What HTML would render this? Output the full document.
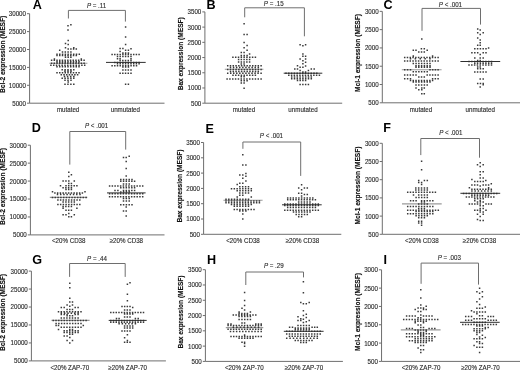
<!DOCTYPE html>
<html><head><meta charset="utf-8"><style>
html,body{margin:0;padding:0;background:#fff;}
svg{display:block;will-change:transform;filter:blur(0.4px);}
text{font-family:"Liberation Sans", sans-serif;}
.t{font-size:6.2px;fill:#2a2a2a;stroke:#2a2a2a;stroke-width:0.12px;}
.ti{font-size:6.9px;font-weight:bold;fill:#111;stroke:#111;stroke-width:0.15px;}
.L{font-size:12.6px;font-weight:bold;fill:#000;}
</style></head><body>
<svg width="520" height="371" viewBox="0 0 520 371">
<rect width="520" height="371" fill="#fff"/>
<path d="M29.6 13.7V103.2H164.5" stroke="#6e6e6e" stroke-width="1" fill="none"/>
<path d="M27 13.7H29.6M27 31.6H29.6M27 49.5H29.6M27 67.4H29.6M27 85.3H29.6M27 103.2H29.6" stroke="#6e6e6e" stroke-width="1" fill="none"/>
<text transform="translate(26 16.15) scale(1 1.13)" text-anchor="end" class="t">30000</text>
<text transform="translate(26 34.05) scale(1 1.13)" text-anchor="end" class="t">25000</text>
<text transform="translate(26 51.95) scale(1 1.13)" text-anchor="end" class="t">20000</text>
<text transform="translate(26 69.85) scale(1 1.13)" text-anchor="end" class="t">15000</text>
<text transform="translate(26 87.75) scale(1 1.13)" text-anchor="end" class="t">10000</text>
<text transform="translate(26 105.65) scale(1 1.13)" text-anchor="end" class="t">5000</text>
<text transform="translate(5.4 54.45) rotate(-90) scale(0.955 1)" text-anchor="middle" class="ti">Bcl-2 expression (MESF)</text>
<text x="32.7" y="8.7" class="L">A</text>
<path d="M68.4 18.5V10.4H125.4V21.6" stroke="#6e6e6e" stroke-width="1" fill="none"/>
<text transform="translate(86.9 7.7) scale(1 1.03)" class="t"><tspan font-style="italic">P</tspan> = .11</text>
<text transform="translate(68.1 112.25) scale(1 1.13)" text-anchor="middle" class="t">mutated</text>
<text transform="translate(125.35 112.25) scale(1 1.13)" text-anchor="middle" class="t">unmutated</text>
<path d="M49.4 63.3H87.4" stroke="#9a9a9a" stroke-width="1.1"/>
<path d="M70.15 24.05h1.5v1.5h-1.5zM67.25 25.05h1.5v1.5h-1.5zM67.25 29.25h1.5v1.5h-1.5zM67.45 39.85h1.5v1.5h-1.5zM64.75 42.75h1.5v1.5h-1.5zM67.45 43.85h1.5v1.5h-1.5zM64.75 47.05h1.5v1.5h-1.5zM73.05 47.05h1.5v1.5h-1.5zM67.45 48.25h1.5v1.5h-1.5zM70.15 48.25h1.5v1.5h-1.5zM72.85 48.25h1.5v1.5h-1.5zM75.55 48.25h1.5v1.5h-1.5zM58.95 49.45h1.5v1.5h-1.5zM61.75 51.15h1.5v1.5h-1.5zM64.55 51.15h1.5v1.5h-1.5zM67.35 51.15h1.5v1.5h-1.5zM70.15 51.15h1.5v1.5h-1.5zM56.25 53.45h1.5v1.5h-1.5zM59.04 53.45h1.5v1.5h-1.5zM61.83 53.45h1.5v1.5h-1.5zM64.61 53.45h1.5v1.5h-1.5zM67.4 53.45h1.5v1.5h-1.5zM70.19 53.45h1.5v1.5h-1.5zM72.97 53.45h1.5v1.5h-1.5zM75.76 53.45h1.5v1.5h-1.5zM78.55 53.45h1.5v1.5h-1.5zM56.25 54.85h1.5v1.5h-1.5zM59.01 54.85h1.5v1.5h-1.5zM61.76 54.85h1.5v1.5h-1.5zM64.52 54.85h1.5v1.5h-1.5zM67.28 54.85h1.5v1.5h-1.5zM70.04 54.85h1.5v1.5h-1.5zM72.79 54.85h1.5v1.5h-1.5zM75.55 54.85h1.5v1.5h-1.5zM64.75 56.55h1.5v1.5h-1.5zM67.45 56.55h1.5v1.5h-1.5zM70.15 56.55h1.5v1.5h-1.5zM53.65 58.25h1.5v1.5h-1.5zM80.55 58.25h1.5v1.5h-1.5zM50.85 59.45h1.5v1.5h-1.5zM53.56 59.45h1.5v1.5h-1.5zM56.27 59.45h1.5v1.5h-1.5zM58.98 59.45h1.5v1.5h-1.5zM61.68 59.45h1.5v1.5h-1.5zM64.39 59.45h1.5v1.5h-1.5zM67.1 59.45h1.5v1.5h-1.5zM69.81 59.45h1.5v1.5h-1.5zM72.52 59.45h1.5v1.5h-1.5zM75.22 59.45h1.5v1.5h-1.5zM77.93 59.45h1.5v1.5h-1.5zM80.64 59.45h1.5v1.5h-1.5zM83.35 59.45h1.5v1.5h-1.5zM56.25 60.95h1.5v1.5h-1.5zM59 60.95h1.5v1.5h-1.5zM61.75 60.95h1.5v1.5h-1.5zM64.5 60.95h1.5v1.5h-1.5zM67.25 60.95h1.5v1.5h-1.5zM70 60.95h1.5v1.5h-1.5zM72.75 60.95h1.5v1.5h-1.5zM75.5 60.95h1.5v1.5h-1.5zM78.25 60.95h1.5v1.5h-1.5zM50.85 62.55h1.5v1.5h-1.5zM53.56 62.55h1.5v1.5h-1.5zM56.27 62.55h1.5v1.5h-1.5zM58.98 62.55h1.5v1.5h-1.5zM61.68 62.55h1.5v1.5h-1.5zM64.39 62.55h1.5v1.5h-1.5zM67.1 62.55h1.5v1.5h-1.5zM69.81 62.55h1.5v1.5h-1.5zM72.52 62.55h1.5v1.5h-1.5zM75.22 62.55h1.5v1.5h-1.5zM77.93 62.55h1.5v1.5h-1.5zM80.64 62.55h1.5v1.5h-1.5zM83.35 62.55h1.5v1.5h-1.5zM50.15 64.45h1.5v1.5h-1.5zM52.97 64.45h1.5v1.5h-1.5zM55.78 64.45h1.5v1.5h-1.5zM58.6 64.45h1.5v1.5h-1.5zM61.42 64.45h1.5v1.5h-1.5zM64.23 64.45h1.5v1.5h-1.5zM67.05 64.45h1.5v1.5h-1.5zM69.87 64.45h1.5v1.5h-1.5zM72.68 64.45h1.5v1.5h-1.5zM75.5 64.45h1.5v1.5h-1.5zM78.32 64.45h1.5v1.5h-1.5zM81.13 64.45h1.5v1.5h-1.5zM83.95 64.45h1.5v1.5h-1.5zM56.25 66.05h1.5v1.5h-1.5zM59 66.05h1.5v1.5h-1.5zM61.75 66.05h1.5v1.5h-1.5zM64.5 66.05h1.5v1.5h-1.5zM67.25 66.05h1.5v1.5h-1.5zM70 66.05h1.5v1.5h-1.5zM72.75 66.05h1.5v1.5h-1.5zM75.5 66.05h1.5v1.5h-1.5zM78.25 66.05h1.5v1.5h-1.5zM61.45 69.05h1.5v1.5h-1.5zM64.35 69.05h1.5v1.5h-1.5zM67.25 69.05h1.5v1.5h-1.5zM70.15 69.05h1.5v1.5h-1.5zM73.05 69.05h1.5v1.5h-1.5zM64.25 70.45h1.5v1.5h-1.5zM67.25 70.45h1.5v1.5h-1.5zM70.25 70.45h1.5v1.5h-1.5zM56.25 71.95h1.5v1.5h-1.5zM59 71.95h1.5v1.5h-1.5zM61.75 71.95h1.5v1.5h-1.5zM64.5 71.95h1.5v1.5h-1.5zM67.25 71.95h1.5v1.5h-1.5zM70 71.95h1.5v1.5h-1.5zM72.75 71.95h1.5v1.5h-1.5zM75.5 71.95h1.5v1.5h-1.5zM78.25 71.95h1.5v1.5h-1.5zM60.55 73.95h1.5v1.5h-1.5zM63.27 73.95h1.5v1.5h-1.5zM65.98 73.95h1.5v1.5h-1.5zM68.7 73.95h1.5v1.5h-1.5zM71.42 73.95h1.5v1.5h-1.5zM74.13 73.95h1.5v1.5h-1.5zM76.85 73.95h1.5v1.5h-1.5zM63.75 75.65h1.5v1.5h-1.5zM66.85 75.65h1.5v1.5h-1.5zM69.95 75.65h1.5v1.5h-1.5zM73.05 75.65h1.5v1.5h-1.5zM61.45 77.55h1.5v1.5h-1.5zM64.35 77.55h1.5v1.5h-1.5zM67.25 77.55h1.5v1.5h-1.5zM70.15 77.55h1.5v1.5h-1.5zM73.05 77.55h1.5v1.5h-1.5zM64.25 79.45h1.5v1.5h-1.5zM67.25 79.45h1.5v1.5h-1.5zM70.25 79.45h1.5v1.5h-1.5zM67.45 81.25h1.5v1.5h-1.5zM64.25 83.45h1.5v1.5h-1.5zM67.18 83.45h1.5v1.5h-1.5zM70.12 83.45h1.5v1.5h-1.5zM73.05 83.45h1.5v1.5h-1.5z" fill="#3a3a3a"/>
<path d="M124.85 26.15h1.5v1.5h-1.5zM124.85 36.35h1.5v1.5h-1.5zM124.85 43.85h1.5v1.5h-1.5zM119.35 47.85h1.5v1.5h-1.5zM122.15 47.85h1.5v1.5h-1.5zM130.25 48.05h1.5v1.5h-1.5zM124.85 49.45h1.5v1.5h-1.5zM127.65 49.45h1.5v1.5h-1.5zM119.35 50.65h1.5v1.5h-1.5zM122.15 52.15h1.5v1.5h-1.5zM124.9 52.15h1.5v1.5h-1.5zM127.65 52.15h1.5v1.5h-1.5zM111.35 53.85h1.5v1.5h-1.5zM114.05 53.85h1.5v1.5h-1.5zM116.75 53.85h1.5v1.5h-1.5zM119.45 53.85h1.5v1.5h-1.5zM122.15 53.85h1.5v1.5h-1.5zM124.85 53.85h1.5v1.5h-1.5zM127.55 53.85h1.5v1.5h-1.5zM130.25 53.85h1.5v1.5h-1.5zM132.95 53.85h1.5v1.5h-1.5zM135.65 53.85h1.5v1.5h-1.5zM138.35 53.85h1.5v1.5h-1.5zM116.75 55.85h1.5v1.5h-1.5zM119.45 55.85h1.5v1.5h-1.5zM122.15 55.85h1.5v1.5h-1.5zM124.85 55.85h1.5v1.5h-1.5zM127.55 55.85h1.5v1.5h-1.5zM130.25 55.85h1.5v1.5h-1.5zM116.75 57.95h1.5v1.5h-1.5zM119.35 57.95h1.5v1.5h-1.5zM130.25 57.95h1.5v1.5h-1.5zM119.35 59.85h1.5v1.5h-1.5zM122.07 59.85h1.5v1.5h-1.5zM124.8 59.85h1.5v1.5h-1.5zM127.53 59.85h1.5v1.5h-1.5zM130.25 59.85h1.5v1.5h-1.5zM114.05 61.65h1.5v1.5h-1.5zM116.75 61.65h1.5v1.5h-1.5zM119.45 61.65h1.5v1.5h-1.5zM122.15 61.65h1.5v1.5h-1.5zM124.85 61.65h1.5v1.5h-1.5zM127.55 61.65h1.5v1.5h-1.5zM130.25 61.65h1.5v1.5h-1.5zM132.95 61.65h1.5v1.5h-1.5zM135.65 61.65h1.5v1.5h-1.5zM138.35 61.65h1.5v1.5h-1.5zM116.75 63.05h1.5v1.5h-1.5zM119.45 63.05h1.5v1.5h-1.5zM122.15 63.05h1.5v1.5h-1.5zM124.85 63.05h1.5v1.5h-1.5zM127.55 63.05h1.5v1.5h-1.5zM130.25 63.05h1.5v1.5h-1.5zM132.95 63.05h1.5v1.5h-1.5zM135.65 63.05h1.5v1.5h-1.5zM138.35 63.05h1.5v1.5h-1.5zM111.35 65.05h1.5v1.5h-1.5zM114.06 65.05h1.5v1.5h-1.5zM116.77 65.05h1.5v1.5h-1.5zM119.48 65.05h1.5v1.5h-1.5zM122.19 65.05h1.5v1.5h-1.5zM124.91 65.05h1.5v1.5h-1.5zM127.62 65.05h1.5v1.5h-1.5zM130.33 65.05h1.5v1.5h-1.5zM133.04 65.05h1.5v1.5h-1.5zM135.75 65.05h1.5v1.5h-1.5zM122.15 66.25h1.5v1.5h-1.5zM124.9 66.25h1.5v1.5h-1.5zM127.65 66.25h1.5v1.5h-1.5zM122.15 69.15h1.5v1.5h-1.5zM124.85 69.15h1.5v1.5h-1.5zM127.55 69.15h1.5v1.5h-1.5zM130.25 69.15h1.5v1.5h-1.5zM119.35 72.55h1.5v1.5h-1.5zM122.07 72.55h1.5v1.5h-1.5zM124.8 72.55h1.5v1.5h-1.5zM127.53 72.55h1.5v1.5h-1.5zM130.25 72.55h1.5v1.5h-1.5zM124.85 83.55h1.5v1.5h-1.5zM127.65 83.55h1.5v1.5h-1.5z" fill="#3a3a3a"/>
<path d="M106 62.4H145.7" stroke="#2e2e2e" stroke-width="1.0"/>
<path d="M204.9 11.9V103.2H342.2" stroke="#6e6e6e" stroke-width="1" fill="none"/>
<path d="M202.3 11.9H204.9M202.3 27.12H204.9M202.3 42.33H204.9M202.3 57.55H204.9M202.3 72.77H204.9M202.3 87.98H204.9M202.3 103.2H204.9" stroke="#6e6e6e" stroke-width="1" fill="none"/>
<text transform="translate(201.3 14.35) scale(1 1.13)" text-anchor="end" class="t">3500</text>
<text transform="translate(201.3 29.57) scale(1 1.13)" text-anchor="end" class="t">3000</text>
<text transform="translate(201.3 44.78) scale(1 1.13)" text-anchor="end" class="t">2500</text>
<text transform="translate(201.3 60) scale(1 1.13)" text-anchor="end" class="t">2000</text>
<text transform="translate(201.3 75.22) scale(1 1.13)" text-anchor="end" class="t">1500</text>
<text transform="translate(201.3 90.43) scale(1 1.13)" text-anchor="end" class="t">1000</text>
<text transform="translate(201.3 105.65) scale(1 1.13)" text-anchor="end" class="t">500</text>
<text transform="translate(182.6 53.8) rotate(-90) scale(0.955 1)" text-anchor="middle" class="ti">Bax expression (MESF)</text>
<text x="206.4" y="8.7" class="L">B</text>
<path d="M244.7 17.3V7.8H304.4V36.3" stroke="#6e6e6e" stroke-width="1" fill="none"/>
<text transform="translate(263.8 6.2) scale(1 1.03)" class="t"><tspan font-style="italic">P</tspan> = .15</text>
<text transform="translate(244 111.85) scale(1 1.13)" text-anchor="middle" class="t">mutated</text>
<text transform="translate(303 111.85) scale(1 1.13)" text-anchor="middle" class="t">unmutated</text>
<path d="M224.8 69.3H263.4" stroke="#9a9a9a" stroke-width="1.1"/>
<path d="M243.35 23.05h1.5v1.5h-1.5zM243.35 33.65h1.5v1.5h-1.5zM246.35 33.65h1.5v1.5h-1.5zM243.35 41.85h1.5v1.5h-1.5zM246.35 44.75h1.5v1.5h-1.5zM243.35 47.05h1.5v1.5h-1.5zM246.35 49.55h1.5v1.5h-1.5zM240.55 51.65h1.5v1.5h-1.5zM243.35 51.65h1.5v1.5h-1.5zM248.85 53.25h1.5v1.5h-1.5zM240.55 54.75h1.5v1.5h-1.5zM243.45 54.75h1.5v1.5h-1.5zM246.35 54.75h1.5v1.5h-1.5zM232.15 56.45h1.5v1.5h-1.5zM234.96 56.45h1.5v1.5h-1.5zM237.78 56.45h1.5v1.5h-1.5zM240.59 56.45h1.5v1.5h-1.5zM243.4 56.45h1.5v1.5h-1.5zM246.21 56.45h1.5v1.5h-1.5zM249.03 56.45h1.5v1.5h-1.5zM251.84 56.45h1.5v1.5h-1.5zM254.65 56.45h1.5v1.5h-1.5zM237.85 58.75h1.5v1.5h-1.5zM240.6 58.75h1.5v1.5h-1.5zM243.35 58.75h1.5v1.5h-1.5zM246.1 58.75h1.5v1.5h-1.5zM248.85 58.75h1.5v1.5h-1.5zM237.85 61.35h1.5v1.5h-1.5zM240.6 61.35h1.5v1.5h-1.5zM243.35 61.35h1.5v1.5h-1.5zM246.1 61.35h1.5v1.5h-1.5zM248.85 61.35h1.5v1.5h-1.5zM240.55 63.35h1.5v1.5h-1.5zM243.35 63.35h1.5v1.5h-1.5zM226.95 65.05h1.5v1.5h-1.5zM229.73 65.05h1.5v1.5h-1.5zM232.52 65.05h1.5v1.5h-1.5zM235.3 65.05h1.5v1.5h-1.5zM238.08 65.05h1.5v1.5h-1.5zM240.87 65.05h1.5v1.5h-1.5zM243.65 65.05h1.5v1.5h-1.5zM246.43 65.05h1.5v1.5h-1.5zM249.22 65.05h1.5v1.5h-1.5zM252 65.05h1.5v1.5h-1.5zM254.78 65.05h1.5v1.5h-1.5zM257.57 65.05h1.5v1.5h-1.5zM260.35 65.05h1.5v1.5h-1.5zM229.75 66.85h1.5v1.5h-1.5zM232.84 66.85h1.5v1.5h-1.5zM235.93 66.85h1.5v1.5h-1.5zM239.02 66.85h1.5v1.5h-1.5zM242.11 66.85h1.5v1.5h-1.5zM245.19 66.85h1.5v1.5h-1.5zM248.28 66.85h1.5v1.5h-1.5zM251.37 66.85h1.5v1.5h-1.5zM254.46 66.85h1.5v1.5h-1.5zM257.55 66.85h1.5v1.5h-1.5zM226.95 68.75h1.5v1.5h-1.5zM229.73 68.75h1.5v1.5h-1.5zM232.52 68.75h1.5v1.5h-1.5zM235.3 68.75h1.5v1.5h-1.5zM238.08 68.75h1.5v1.5h-1.5zM240.87 68.75h1.5v1.5h-1.5zM243.65 68.75h1.5v1.5h-1.5zM246.43 68.75h1.5v1.5h-1.5zM249.22 68.75h1.5v1.5h-1.5zM252 68.75h1.5v1.5h-1.5zM254.78 68.75h1.5v1.5h-1.5zM257.57 68.75h1.5v1.5h-1.5zM260.35 68.75h1.5v1.5h-1.5zM229.75 70.65h1.5v1.5h-1.5zM232.53 70.65h1.5v1.5h-1.5zM235.31 70.65h1.5v1.5h-1.5zM238.09 70.65h1.5v1.5h-1.5zM240.87 70.65h1.5v1.5h-1.5zM243.65 70.65h1.5v1.5h-1.5zM246.43 70.65h1.5v1.5h-1.5zM249.21 70.65h1.5v1.5h-1.5zM251.99 70.65h1.5v1.5h-1.5zM254.77 70.65h1.5v1.5h-1.5zM257.55 70.65h1.5v1.5h-1.5zM226.95 72.55h1.5v1.5h-1.5zM229.99 72.55h1.5v1.5h-1.5zM233.02 72.55h1.5v1.5h-1.5zM236.06 72.55h1.5v1.5h-1.5zM239.1 72.55h1.5v1.5h-1.5zM242.13 72.55h1.5v1.5h-1.5zM245.17 72.55h1.5v1.5h-1.5zM248.2 72.55h1.5v1.5h-1.5zM251.24 72.55h1.5v1.5h-1.5zM254.28 72.55h1.5v1.5h-1.5zM257.31 72.55h1.5v1.5h-1.5zM260.35 72.55h1.5v1.5h-1.5zM232.25 74.55h1.5v1.5h-1.5zM235.05 74.55h1.5v1.5h-1.5zM237.85 74.55h1.5v1.5h-1.5zM240.65 74.55h1.5v1.5h-1.5zM243.45 74.55h1.5v1.5h-1.5zM246.25 74.55h1.5v1.5h-1.5zM249.05 74.55h1.5v1.5h-1.5zM251.85 74.55h1.5v1.5h-1.5zM254.65 74.55h1.5v1.5h-1.5zM240.55 76.05h1.5v1.5h-1.5zM243.35 76.05h1.5v1.5h-1.5zM226.35 78.35h1.5v1.5h-1.5zM229.18 78.35h1.5v1.5h-1.5zM232.02 78.35h1.5v1.5h-1.5zM234.85 78.35h1.5v1.5h-1.5zM237.68 78.35h1.5v1.5h-1.5zM240.52 78.35h1.5v1.5h-1.5zM243.35 78.35h1.5v1.5h-1.5zM246.18 78.35h1.5v1.5h-1.5zM249.02 78.35h1.5v1.5h-1.5zM251.85 78.35h1.5v1.5h-1.5zM254.68 78.35h1.5v1.5h-1.5zM257.52 78.35h1.5v1.5h-1.5zM260.35 78.35h1.5v1.5h-1.5zM240.55 80.05h1.5v1.5h-1.5zM243.45 80.05h1.5v1.5h-1.5zM246.35 80.05h1.5v1.5h-1.5zM240.55 82.35h1.5v1.5h-1.5zM243.35 82.35h1.5v1.5h-1.5zM243.35 87.55h1.5v1.5h-1.5z" fill="#3a3a3a"/>
<path d="M299.35 43.95h1.5v1.5h-1.5zM304.85 43.95h1.5v1.5h-1.5zM302.15 45.05h1.5v1.5h-1.5zM302.15 53.15h1.5v1.5h-1.5zM302.15 55.45h1.5v1.5h-1.5zM304.85 55.45h1.5v1.5h-1.5zM299.35 58.35h1.5v1.5h-1.5zM304.85 58.35h1.5v1.5h-1.5zM302.15 60.05h1.5v1.5h-1.5zM304.85 61.55h1.5v1.5h-1.5zM302.15 62.95h1.5v1.5h-1.5zM296.75 65.05h1.5v1.5h-1.5zM304.85 65.25h1.5v1.5h-1.5zM299.35 66.55h1.5v1.5h-1.5zM302.15 66.55h1.5v1.5h-1.5zM294.05 68.25h1.5v1.5h-1.5zM296.75 68.25h1.5v1.5h-1.5zM310.55 68.25h1.5v1.5h-1.5zM313.45 68.25h1.5v1.5h-1.5zM299.35 69.65h1.5v1.5h-1.5zM307.65 69.65h1.5v1.5h-1.5zM302.15 71.15h1.5v1.5h-1.5zM304.85 71.15h1.5v1.5h-1.5zM285.25 72.45h1.5v1.5h-1.5zM288.05 72.45h1.5v1.5h-1.5zM290.85 72.45h1.5v1.5h-1.5zM293.65 72.45h1.5v1.5h-1.5zM296.45 72.45h1.5v1.5h-1.5zM299.25 72.45h1.5v1.5h-1.5zM302.05 72.45h1.5v1.5h-1.5zM304.85 72.45h1.5v1.5h-1.5zM307.65 72.45h1.5v1.5h-1.5zM310.45 72.45h1.5v1.5h-1.5zM313.25 72.45h1.5v1.5h-1.5zM316.05 72.45h1.5v1.5h-1.5zM288.05 74.55h1.5v1.5h-1.5zM290.83 74.55h1.5v1.5h-1.5zM293.61 74.55h1.5v1.5h-1.5zM296.4 74.55h1.5v1.5h-1.5zM299.18 74.55h1.5v1.5h-1.5zM301.96 74.55h1.5v1.5h-1.5zM304.74 74.55h1.5v1.5h-1.5zM307.52 74.55h1.5v1.5h-1.5zM310.3 74.55h1.5v1.5h-1.5zM313.09 74.55h1.5v1.5h-1.5zM315.87 74.55h1.5v1.5h-1.5zM318.65 74.55h1.5v1.5h-1.5zM290.95 76.25h1.5v1.5h-1.5zM293.75 76.25h1.5v1.5h-1.5zM296.55 76.25h1.5v1.5h-1.5zM299.35 76.25h1.5v1.5h-1.5zM302.15 76.25h1.5v1.5h-1.5zM304.95 76.25h1.5v1.5h-1.5zM307.75 76.25h1.5v1.5h-1.5zM310.55 76.25h1.5v1.5h-1.5zM290.95 77.95h1.5v1.5h-1.5zM293.75 77.95h1.5v1.5h-1.5zM296.55 77.95h1.5v1.5h-1.5zM299.35 77.95h1.5v1.5h-1.5zM302.15 77.95h1.5v1.5h-1.5zM304.95 77.95h1.5v1.5h-1.5zM307.75 77.95h1.5v1.5h-1.5zM310.55 77.95h1.5v1.5h-1.5zM296.75 79.75h1.5v1.5h-1.5zM299.45 79.75h1.5v1.5h-1.5zM302.15 79.75h1.5v1.5h-1.5zM304.85 79.75h1.5v1.5h-1.5zM299.35 83.75h1.5v1.5h-1.5zM302.12 83.75h1.5v1.5h-1.5zM304.88 83.75h1.5v1.5h-1.5zM307.65 83.75h1.5v1.5h-1.5z" fill="#3a3a3a"/>
<path d="M283.7 73.2H322.3" stroke="#2e2e2e" stroke-width="1.0"/>
<path d="M382.3 11.35V102.8H521" stroke="#6e6e6e" stroke-width="1" fill="none"/>
<path d="M379.7 11.35H382.3M379.7 29.64H382.3M379.7 47.93H382.3M379.7 66.22H382.3M379.7 84.51H382.3M379.7 102.8H382.3" stroke="#6e6e6e" stroke-width="1" fill="none"/>
<text transform="translate(378.7 13.8) scale(1 1.13)" text-anchor="end" class="t">3000</text>
<text transform="translate(378.7 32.09) scale(1 1.13)" text-anchor="end" class="t">2500</text>
<text transform="translate(378.7 50.38) scale(1 1.13)" text-anchor="end" class="t">2000</text>
<text transform="translate(378.7 68.67) scale(1 1.13)" text-anchor="end" class="t">1500</text>
<text transform="translate(378.7 86.96) scale(1 1.13)" text-anchor="end" class="t">1000</text>
<text transform="translate(378.7 105.25) scale(1 1.13)" text-anchor="end" class="t">500</text>
<text transform="translate(360.1 53.05) rotate(-90) scale(0.955 1)" text-anchor="middle" class="ti">Mcl-1 expression (MESF)</text>
<text x="383.6" y="8.7" class="L">C</text>
<path d="M422 30.8V8.4H480.5V24.6" stroke="#6e6e6e" stroke-width="1" fill="none"/>
<text transform="translate(438.8 6.5) scale(1 1.03)" class="t"><tspan font-style="italic">P</tspan> < .001</text>
<text transform="translate(421 111.85) scale(1 1.13)" text-anchor="middle" class="t">mutated</text>
<text transform="translate(480.2 111.85) scale(1 1.13)" text-anchor="middle" class="t">unmutated</text>
<path d="M401.8 69.8H441.6" stroke="#9a9a9a" stroke-width="1.1"/>
<path d="M421.05 38.25h1.5v1.5h-1.5zM420.65 47.95h1.5v1.5h-1.5zM423.55 47.95h1.5v1.5h-1.5zM412.55 49.45h1.5v1.5h-1.5zM415.25 49.45h1.5v1.5h-1.5zM426.45 49.45h1.5v1.5h-1.5zM418.05 51.15h1.5v1.5h-1.5zM420.8 51.15h1.5v1.5h-1.5zM423.55 51.15h1.5v1.5h-1.5zM412.55 55.25h1.5v1.5h-1.5zM431.85 55.25h1.5v1.5h-1.5zM403.95 56.75h1.5v1.5h-1.5zM406.73 56.75h1.5v1.5h-1.5zM409.52 56.75h1.5v1.5h-1.5zM412.3 56.75h1.5v1.5h-1.5zM415.08 56.75h1.5v1.5h-1.5zM417.87 56.75h1.5v1.5h-1.5zM420.65 56.75h1.5v1.5h-1.5zM423.43 56.75h1.5v1.5h-1.5zM426.22 56.75h1.5v1.5h-1.5zM429 56.75h1.5v1.5h-1.5zM431.78 56.75h1.5v1.5h-1.5zM434.57 56.75h1.5v1.5h-1.5zM437.35 56.75h1.5v1.5h-1.5zM409.75 58.05h1.5v1.5h-1.5zM414.62 58.05h1.5v1.5h-1.5zM419.5 58.05h1.5v1.5h-1.5zM424.38 58.05h1.5v1.5h-1.5zM429.25 58.05h1.5v1.5h-1.5zM403.95 60.15h1.5v1.5h-1.5zM406.73 60.15h1.5v1.5h-1.5zM409.52 60.15h1.5v1.5h-1.5zM412.3 60.15h1.5v1.5h-1.5zM415.08 60.15h1.5v1.5h-1.5zM417.87 60.15h1.5v1.5h-1.5zM420.65 60.15h1.5v1.5h-1.5zM423.43 60.15h1.5v1.5h-1.5zM426.22 60.15h1.5v1.5h-1.5zM429 60.15h1.5v1.5h-1.5zM431.78 60.15h1.5v1.5h-1.5zM434.57 60.15h1.5v1.5h-1.5zM437.35 60.15h1.5v1.5h-1.5zM412.55 62.65h1.5v1.5h-1.5zM415.33 62.65h1.5v1.5h-1.5zM418.12 62.65h1.5v1.5h-1.5zM420.9 62.65h1.5v1.5h-1.5zM423.68 62.65h1.5v1.5h-1.5zM426.47 62.65h1.5v1.5h-1.5zM429.25 62.65h1.5v1.5h-1.5zM415.25 65.05h1.5v1.5h-1.5zM418.05 65.05h1.5v1.5h-1.5zM420.85 65.05h1.5v1.5h-1.5zM423.65 65.05h1.5v1.5h-1.5zM426.45 65.05h1.5v1.5h-1.5zM429.25 65.05h1.5v1.5h-1.5zM415.25 66.45h1.5v1.5h-1.5zM418.05 66.45h1.5v1.5h-1.5zM420.85 66.45h1.5v1.5h-1.5zM423.65 66.45h1.5v1.5h-1.5zM426.45 66.45h1.5v1.5h-1.5zM429.25 66.45h1.5v1.5h-1.5zM403.95 69.05h1.5v1.5h-1.5zM406.85 69.05h1.5v1.5h-1.5zM409.75 69.05h1.5v1.5h-1.5zM429.25 69.05h1.5v1.5h-1.5zM431.95 69.05h1.5v1.5h-1.5zM434.65 69.05h1.5v1.5h-1.5zM437.35 69.05h1.5v1.5h-1.5zM412.55 71.05h1.5v1.5h-1.5zM415.33 71.05h1.5v1.5h-1.5zM418.11 71.05h1.5v1.5h-1.5zM420.89 71.05h1.5v1.5h-1.5zM423.67 71.05h1.5v1.5h-1.5zM426.45 71.05h1.5v1.5h-1.5zM403.95 74.15h1.5v1.5h-1.5zM406.77 74.15h1.5v1.5h-1.5zM409.6 74.15h1.5v1.5h-1.5zM412.43 74.15h1.5v1.5h-1.5zM415.25 74.15h1.5v1.5h-1.5zM426.45 74.15h1.5v1.5h-1.5zM429.18 74.15h1.5v1.5h-1.5zM431.9 74.15h1.5v1.5h-1.5zM434.62 74.15h1.5v1.5h-1.5zM437.35 74.15h1.5v1.5h-1.5zM418.05 76.25h1.5v1.5h-1.5zM420.8 76.25h1.5v1.5h-1.5zM423.55 76.25h1.5v1.5h-1.5zM403.95 77.95h1.5v1.5h-1.5zM406.85 77.95h1.5v1.5h-1.5zM409.75 77.95h1.5v1.5h-1.5zM431.85 77.95h1.5v1.5h-1.5zM434.6 77.95h1.5v1.5h-1.5zM437.35 77.95h1.5v1.5h-1.5zM409.75 79.75h1.5v1.5h-1.5zM412.51 79.75h1.5v1.5h-1.5zM415.27 79.75h1.5v1.5h-1.5zM418.04 79.75h1.5v1.5h-1.5zM420.8 79.75h1.5v1.5h-1.5zM423.56 79.75h1.5v1.5h-1.5zM426.33 79.75h1.5v1.5h-1.5zM429.09 79.75h1.5v1.5h-1.5zM431.85 79.75h1.5v1.5h-1.5zM412.55 81.25h1.5v1.5h-1.5zM415.33 81.25h1.5v1.5h-1.5zM418.12 81.25h1.5v1.5h-1.5zM420.9 81.25h1.5v1.5h-1.5zM423.68 81.25h1.5v1.5h-1.5zM426.47 81.25h1.5v1.5h-1.5zM429.25 81.25h1.5v1.5h-1.5zM415.25 84.25h1.5v1.5h-1.5zM418.05 84.25h1.5v1.5h-1.5zM420.85 84.25h1.5v1.5h-1.5zM423.65 84.25h1.5v1.5h-1.5zM426.45 84.25h1.5v1.5h-1.5zM415.25 87.25h1.5v1.5h-1.5zM421.05 87.25h1.5v1.5h-1.5zM423.55 87.25h1.5v1.5h-1.5zM418.05 88.95h1.5v1.5h-1.5zM421.05 88.95h1.5v1.5h-1.5zM421.05 92.95h1.5v1.5h-1.5zM423.55 92.95h1.5v1.5h-1.5z" fill="#3a3a3a"/>
<path d="M476.95 28.25h1.5v1.5h-1.5zM479.45 29.25h1.5v1.5h-1.5zM476.95 31.95h1.5v1.5h-1.5zM482.45 31.95h1.5v1.5h-1.5zM479.45 33.65h1.5v1.5h-1.5zM476.95 37.35h1.5v1.5h-1.5zM479.45 39.15h1.5v1.5h-1.5zM479.45 41.95h1.5v1.5h-1.5zM476.95 44.55h1.5v1.5h-1.5zM479.45 44.55h1.5v1.5h-1.5zM487.85 47.25h1.5v1.5h-1.5zM474.05 48.05h1.5v1.5h-1.5zM476.85 48.05h1.5v1.5h-1.5zM479.65 48.05h1.5v1.5h-1.5zM482.45 48.05h1.5v1.5h-1.5zM485.25 48.05h1.5v1.5h-1.5zM471.15 52.05h1.5v1.5h-1.5zM474.05 52.05h1.5v1.5h-1.5zM476.95 52.05h1.5v1.5h-1.5zM482.45 52.05h1.5v1.5h-1.5zM485.25 52.05h1.5v1.5h-1.5zM479.45 53.85h1.5v1.5h-1.5zM474.05 57.25h1.5v1.5h-1.5zM479.45 57.25h1.5v1.5h-1.5zM482.45 57.25h1.5v1.5h-1.5zM476.95 59.85h1.5v1.5h-1.5zM479.45 59.85h1.5v1.5h-1.5zM468.25 60.85h1.5v1.5h-1.5zM471.06 60.85h1.5v1.5h-1.5zM473.88 60.85h1.5v1.5h-1.5zM476.69 60.85h1.5v1.5h-1.5zM479.5 60.85h1.5v1.5h-1.5zM482.31 60.85h1.5v1.5h-1.5zM485.12 60.85h1.5v1.5h-1.5zM487.94 60.85h1.5v1.5h-1.5zM490.75 60.85h1.5v1.5h-1.5zM474.05 62.45h1.5v1.5h-1.5zM476.83 62.45h1.5v1.5h-1.5zM479.62 62.45h1.5v1.5h-1.5zM482.4 62.45h1.5v1.5h-1.5zM485.18 62.45h1.5v1.5h-1.5zM487.97 62.45h1.5v1.5h-1.5zM490.75 62.45h1.5v1.5h-1.5zM468.25 64.25h1.5v1.5h-1.5zM471.06 64.25h1.5v1.5h-1.5zM473.88 64.25h1.5v1.5h-1.5zM476.69 64.25h1.5v1.5h-1.5zM479.5 64.25h1.5v1.5h-1.5zM482.31 64.25h1.5v1.5h-1.5zM485.12 64.25h1.5v1.5h-1.5zM487.94 64.25h1.5v1.5h-1.5zM490.75 64.25h1.5v1.5h-1.5zM476.95 66.25h1.5v1.5h-1.5zM479.45 66.25h1.5v1.5h-1.5zM476.95 67.95h1.5v1.5h-1.5zM479.7 67.95h1.5v1.5h-1.5zM482.45 67.95h1.5v1.5h-1.5zM474.05 71.35h1.5v1.5h-1.5zM476.85 71.35h1.5v1.5h-1.5zM479.65 71.35h1.5v1.5h-1.5zM482.45 71.35h1.5v1.5h-1.5zM485.25 71.35h1.5v1.5h-1.5zM479.45 78.25h1.5v1.5h-1.5zM482.45 78.25h1.5v1.5h-1.5zM476.95 82.65h1.5v1.5h-1.5zM479.7 82.65h1.5v1.5h-1.5zM482.45 82.65h1.5v1.5h-1.5zM482.45 84.05h1.5v1.5h-1.5zM479.45 86.35h1.5v1.5h-1.5z" fill="#3a3a3a"/>
<path d="M460.4 61.5H500.2" stroke="#2e2e2e" stroke-width="1.0"/>
<path d="M30.4 145.2V234.9H164.5" stroke="#6e6e6e" stroke-width="1" fill="none"/>
<path d="M27.8 145.2H30.4M27.8 163.14H30.4M27.8 181.08H30.4M27.8 199.02H30.4M27.8 216.96H30.4M27.8 234.9H30.4" stroke="#6e6e6e" stroke-width="1" fill="none"/>
<text transform="translate(26.8 147.65) scale(1 1.13)" text-anchor="end" class="t">30000</text>
<text transform="translate(26.8 165.59) scale(1 1.13)" text-anchor="end" class="t">25000</text>
<text transform="translate(26.8 183.53) scale(1 1.13)" text-anchor="end" class="t">20000</text>
<text transform="translate(26.8 201.47) scale(1 1.13)" text-anchor="end" class="t">15000</text>
<text transform="translate(26.8 219.41) scale(1 1.13)" text-anchor="end" class="t">10000</text>
<text transform="translate(26.8 237.35) scale(1 1.13)" text-anchor="end" class="t">5000</text>
<text transform="translate(5.4 186.5) rotate(-90) scale(0.955 1)" text-anchor="middle" class="ti">Bcl-2 expression (MESF)</text>
<text x="31.7" y="132.1" class="L">D</text>
<path d="M69.8 164.6V131.5H125.7V149.6" stroke="#6e6e6e" stroke-width="1" fill="none"/>
<text transform="translate(85 128) scale(1 1.03)" class="t"><tspan font-style="italic">P</tspan> < .001</text>
<text transform="translate(68.7 243.25) scale(1 1.13)" text-anchor="middle" class="t">&lt;20% CD38</text>
<text transform="translate(126.35 243.25) scale(1 1.13)" text-anchor="middle" class="t">≥20% CD38</text>
<path d="M49.8 197.4H87.3" stroke="#9a9a9a" stroke-width="1.1"/>
<path d="M68.05 171.45h1.5v1.5h-1.5zM70.65 174.05h1.5v1.5h-1.5zM68.05 175.75h1.5v1.5h-1.5zM62.35 180.35h1.5v1.5h-1.5zM65.2 180.35h1.5v1.5h-1.5zM68.05 180.35h1.5v1.5h-1.5zM73.55 180.35h1.5v1.5h-1.5zM68.05 182.75h1.5v1.5h-1.5zM70.65 182.75h1.5v1.5h-1.5zM59.75 185.05h1.5v1.5h-1.5zM65.25 185.05h1.5v1.5h-1.5zM67.97 185.05h1.5v1.5h-1.5zM70.7 185.05h1.5v1.5h-1.5zM73.43 185.05h1.5v1.5h-1.5zM76.15 185.05h1.5v1.5h-1.5zM62.35 187.05h1.5v1.5h-1.5zM65.12 187.05h1.5v1.5h-1.5zM67.88 187.05h1.5v1.5h-1.5zM70.65 187.05h1.5v1.5h-1.5zM65.25 188.85h1.5v1.5h-1.5zM67.95 188.85h1.5v1.5h-1.5zM70.65 188.85h1.5v1.5h-1.5zM51.75 191.05h1.5v1.5h-1.5zM84.25 191.05h1.5v1.5h-1.5zM54.15 192.15h1.5v1.5h-1.5zM56.9 192.15h1.5v1.5h-1.5zM59.65 192.15h1.5v1.5h-1.5zM62.4 192.15h1.5v1.5h-1.5zM65.15 192.15h1.5v1.5h-1.5zM67.9 192.15h1.5v1.5h-1.5zM70.65 192.15h1.5v1.5h-1.5zM73.4 192.15h1.5v1.5h-1.5zM76.15 192.15h1.5v1.5h-1.5zM78.9 192.15h1.5v1.5h-1.5zM81.65 192.15h1.5v1.5h-1.5zM56.75 193.75h1.5v1.5h-1.5zM59.96 193.75h1.5v1.5h-1.5zM63.18 193.75h1.5v1.5h-1.5zM66.39 193.75h1.5v1.5h-1.5zM69.61 193.75h1.5v1.5h-1.5zM72.82 193.75h1.5v1.5h-1.5zM76.04 193.75h1.5v1.5h-1.5zM79.25 193.75h1.5v1.5h-1.5zM51.75 196.65h1.5v1.5h-1.5zM54.55 196.65h1.5v1.5h-1.5zM57.35 196.65h1.5v1.5h-1.5zM60.15 196.65h1.5v1.5h-1.5zM62.95 196.65h1.5v1.5h-1.5zM65.75 196.65h1.5v1.5h-1.5zM68.55 196.65h1.5v1.5h-1.5zM71.35 196.65h1.5v1.5h-1.5zM74.15 196.65h1.5v1.5h-1.5zM76.95 196.65h1.5v1.5h-1.5zM79.75 196.65h1.5v1.5h-1.5zM82.55 196.65h1.5v1.5h-1.5zM85.35 196.65h1.5v1.5h-1.5zM57.15 199.25h1.5v1.5h-1.5zM59.89 199.25h1.5v1.5h-1.5zM62.62 199.25h1.5v1.5h-1.5zM65.36 199.25h1.5v1.5h-1.5zM68.1 199.25h1.5v1.5h-1.5zM70.84 199.25h1.5v1.5h-1.5zM73.57 199.25h1.5v1.5h-1.5zM76.31 199.25h1.5v1.5h-1.5zM79.05 199.25h1.5v1.5h-1.5zM62.35 201.25h1.5v1.5h-1.5zM65.15 201.25h1.5v1.5h-1.5zM67.95 201.25h1.5v1.5h-1.5zM70.75 201.25h1.5v1.5h-1.5zM73.55 201.25h1.5v1.5h-1.5zM57.15 203.65h1.5v1.5h-1.5zM59.89 203.65h1.5v1.5h-1.5zM62.62 203.65h1.5v1.5h-1.5zM65.36 203.65h1.5v1.5h-1.5zM68.1 203.65h1.5v1.5h-1.5zM70.84 203.65h1.5v1.5h-1.5zM73.57 203.65h1.5v1.5h-1.5zM76.31 203.65h1.5v1.5h-1.5zM79.05 203.65h1.5v1.5h-1.5zM62.35 205.65h1.5v1.5h-1.5zM65.12 205.65h1.5v1.5h-1.5zM67.88 205.65h1.5v1.5h-1.5zM70.65 205.65h1.5v1.5h-1.5zM62.35 207.45h1.5v1.5h-1.5zM76.15 207.45h1.5v1.5h-1.5zM65.25 209.45h1.5v1.5h-1.5zM67.95 209.45h1.5v1.5h-1.5zM70.65 209.45h1.5v1.5h-1.5zM68.05 212.85h1.5v1.5h-1.5zM62.35 214.05h1.5v1.5h-1.5zM65.25 214.05h1.5v1.5h-1.5zM73.55 214.05h1.5v1.5h-1.5zM68.05 216.05h1.5v1.5h-1.5zM70.65 216.05h1.5v1.5h-1.5z" fill="#3a3a3a"/>
<path d="M128.45 155.55h1.5v1.5h-1.5zM122.75 156.75h1.5v1.5h-1.5zM125.45 156.75h1.5v1.5h-1.5zM125.45 160.75h1.5v1.5h-1.5zM125.45 167.75h1.5v1.5h-1.5zM125.45 175.25h1.5v1.5h-1.5zM120.05 178.65h1.5v1.5h-1.5zM122.85 178.65h1.5v1.5h-1.5zM125.65 178.65h1.5v1.5h-1.5zM128.45 178.65h1.5v1.5h-1.5zM131.25 178.65h1.5v1.5h-1.5zM120.05 180.45h1.5v1.5h-1.5zM122.81 180.45h1.5v1.5h-1.5zM125.57 180.45h1.5v1.5h-1.5zM128.33 180.45h1.5v1.5h-1.5zM131.09 180.45h1.5v1.5h-1.5zM133.85 180.45h1.5v1.5h-1.5zM122.75 183.25h1.5v1.5h-1.5zM125.6 183.25h1.5v1.5h-1.5zM128.45 183.25h1.5v1.5h-1.5zM108.85 185.15h1.5v1.5h-1.5zM111.61 185.15h1.5v1.5h-1.5zM114.37 185.15h1.5v1.5h-1.5zM117.12 185.15h1.5v1.5h-1.5zM119.88 185.15h1.5v1.5h-1.5zM122.64 185.15h1.5v1.5h-1.5zM125.4 185.15h1.5v1.5h-1.5zM128.16 185.15h1.5v1.5h-1.5zM130.92 185.15h1.5v1.5h-1.5zM133.67 185.15h1.5v1.5h-1.5zM136.43 185.15h1.5v1.5h-1.5zM139.19 185.15h1.5v1.5h-1.5zM141.95 185.15h1.5v1.5h-1.5zM120.05 187.05h1.5v1.5h-1.5zM122.81 187.05h1.5v1.5h-1.5zM125.57 187.05h1.5v1.5h-1.5zM128.33 187.05h1.5v1.5h-1.5zM131.09 187.05h1.5v1.5h-1.5zM133.85 187.05h1.5v1.5h-1.5zM114.25 189.65h1.5v1.5h-1.5zM117.15 189.65h1.5v1.5h-1.5zM122.75 189.65h1.5v1.5h-1.5zM125.53 189.65h1.5v1.5h-1.5zM128.3 189.65h1.5v1.5h-1.5zM131.07 189.65h1.5v1.5h-1.5zM133.85 189.65h1.5v1.5h-1.5zM120.05 191.35h1.5v1.5h-1.5zM122.85 191.35h1.5v1.5h-1.5zM125.65 191.35h1.5v1.5h-1.5zM128.45 191.35h1.5v1.5h-1.5zM108.85 193.05h1.5v1.5h-1.5zM111.61 193.05h1.5v1.5h-1.5zM114.37 193.05h1.5v1.5h-1.5zM117.12 193.05h1.5v1.5h-1.5zM119.88 193.05h1.5v1.5h-1.5zM122.64 193.05h1.5v1.5h-1.5zM125.4 193.05h1.5v1.5h-1.5zM128.16 193.05h1.5v1.5h-1.5zM130.92 193.05h1.5v1.5h-1.5zM133.67 193.05h1.5v1.5h-1.5zM136.43 193.05h1.5v1.5h-1.5zM139.19 193.05h1.5v1.5h-1.5zM141.95 193.05h1.5v1.5h-1.5zM108.85 195.95h1.5v1.5h-1.5zM111.61 195.95h1.5v1.5h-1.5zM114.37 195.95h1.5v1.5h-1.5zM117.12 195.95h1.5v1.5h-1.5zM119.88 195.95h1.5v1.5h-1.5zM122.64 195.95h1.5v1.5h-1.5zM125.4 195.95h1.5v1.5h-1.5zM128.16 195.95h1.5v1.5h-1.5zM130.92 195.95h1.5v1.5h-1.5zM133.67 195.95h1.5v1.5h-1.5zM136.43 195.95h1.5v1.5h-1.5zM139.19 195.95h1.5v1.5h-1.5zM141.95 195.95h1.5v1.5h-1.5zM122.75 197.75h1.5v1.5h-1.5zM125.6 197.75h1.5v1.5h-1.5zM128.45 197.75h1.5v1.5h-1.5zM122.75 200.25h1.5v1.5h-1.5zM125.6 200.25h1.5v1.5h-1.5zM128.45 200.25h1.5v1.5h-1.5zM120.05 204.05h1.5v1.5h-1.5zM122.85 204.05h1.5v1.5h-1.5zM125.65 204.05h1.5v1.5h-1.5zM128.45 204.05h1.5v1.5h-1.5zM131.25 204.05h1.5v1.5h-1.5zM125.45 206.35h1.5v1.5h-1.5zM122.75 210.35h1.5v1.5h-1.5zM125.45 210.35h1.5v1.5h-1.5zM125.45 215.25h1.5v1.5h-1.5z" fill="#3a3a3a"/>
<path d="M107 192.9H145.6" stroke="#2e2e2e" stroke-width="1.0"/>
<path d="M203.6 142.5V234.3H341.3" stroke="#6e6e6e" stroke-width="1" fill="none"/>
<path d="M201 142.5H203.6M201 157.8H203.6M201 173.1H203.6M201 188.4H203.6M201 203.7H203.6M201 219H203.6M201 234.3H203.6" stroke="#6e6e6e" stroke-width="1" fill="none"/>
<text transform="translate(200 144.95) scale(1 1.13)" text-anchor="end" class="t">3500</text>
<text transform="translate(200 160.25) scale(1 1.13)" text-anchor="end" class="t">3000</text>
<text transform="translate(200 175.55) scale(1 1.13)" text-anchor="end" class="t">2500</text>
<text transform="translate(200 190.85) scale(1 1.13)" text-anchor="end" class="t">2000</text>
<text transform="translate(200 206.15) scale(1 1.13)" text-anchor="end" class="t">1500</text>
<text transform="translate(200 221.45) scale(1 1.13)" text-anchor="end" class="t">1000</text>
<text transform="translate(200 236.75) scale(1 1.13)" text-anchor="end" class="t">500</text>
<text transform="translate(181.6 186) rotate(-90) scale(0.955 1)" text-anchor="middle" class="ti">Bax expression (MESF)</text>
<text x="205.4" y="132.5" class="L">E</text>
<path d="M242.9 148.8V142H300.7V175.9" stroke="#6e6e6e" stroke-width="1" fill="none"/>
<text transform="translate(259.8 138) scale(1 1.03)" class="t"><tspan font-style="italic">P</tspan> < .001</text>
<text transform="translate(243 242.65) scale(1 1.13)" text-anchor="middle" class="t">&lt;20% CD38</text>
<text transform="translate(302.4 242.65) scale(1 1.13)" text-anchor="middle" class="t">≥20% CD38</text>
<path d="M223.4 200.2H262.6" stroke="#9a9a9a" stroke-width="1.1"/>
<path d="M242.05 154.05h1.5v1.5h-1.5zM242.05 164.25h1.5v1.5h-1.5zM245.15 164.25h1.5v1.5h-1.5zM245.15 172.85h1.5v1.5h-1.5zM239.05 174.35h1.5v1.5h-1.5zM242.05 174.35h1.5v1.5h-1.5zM245.15 175.55h1.5v1.5h-1.5zM242.05 177.55h1.5v1.5h-1.5zM245.15 180.35h1.5v1.5h-1.5zM239.05 182.55h1.5v1.5h-1.5zM242.05 182.55h1.5v1.5h-1.5zM236.45 183.85h1.5v1.5h-1.5zM239.05 186.05h1.5v1.5h-1.5zM241.95 186.05h1.5v1.5h-1.5zM244.85 186.05h1.5v1.5h-1.5zM247.75 186.05h1.5v1.5h-1.5zM230.75 187.95h1.5v1.5h-1.5zM233.58 187.95h1.5v1.5h-1.5zM236.41 187.95h1.5v1.5h-1.5zM239.24 187.95h1.5v1.5h-1.5zM242.06 187.95h1.5v1.5h-1.5zM244.89 187.95h1.5v1.5h-1.5zM247.72 187.95h1.5v1.5h-1.5zM250.55 187.95h1.5v1.5h-1.5zM236.45 189.95h1.5v1.5h-1.5zM239.27 189.95h1.5v1.5h-1.5zM242.09 189.95h1.5v1.5h-1.5zM244.91 189.95h1.5v1.5h-1.5zM247.73 189.95h1.5v1.5h-1.5zM250.55 189.95h1.5v1.5h-1.5zM239.05 192.25h1.5v1.5h-1.5zM241.95 192.25h1.5v1.5h-1.5zM244.85 192.25h1.5v1.5h-1.5zM247.75 192.25h1.5v1.5h-1.5zM239.05 194.55h1.5v1.5h-1.5zM242.05 194.55h1.5v1.5h-1.5zM236.45 196.25h1.5v1.5h-1.5zM250.55 196.25h1.5v1.5h-1.5zM225.25 198.55h1.5v1.5h-1.5zM228.06 198.55h1.5v1.5h-1.5zM230.88 198.55h1.5v1.5h-1.5zM233.69 198.55h1.5v1.5h-1.5zM236.5 198.55h1.5v1.5h-1.5zM239.31 198.55h1.5v1.5h-1.5zM242.12 198.55h1.5v1.5h-1.5zM244.94 198.55h1.5v1.5h-1.5zM247.75 198.55h1.5v1.5h-1.5zM225.25 200.25h1.5v1.5h-1.5zM228.03 200.25h1.5v1.5h-1.5zM230.82 200.25h1.5v1.5h-1.5zM233.6 200.25h1.5v1.5h-1.5zM236.38 200.25h1.5v1.5h-1.5zM239.17 200.25h1.5v1.5h-1.5zM241.95 200.25h1.5v1.5h-1.5zM244.73 200.25h1.5v1.5h-1.5zM247.52 200.25h1.5v1.5h-1.5zM250.3 200.25h1.5v1.5h-1.5zM253.08 200.25h1.5v1.5h-1.5zM255.87 200.25h1.5v1.5h-1.5zM258.65 200.25h1.5v1.5h-1.5zM225.25 202.05h1.5v1.5h-1.5zM228.03 202.05h1.5v1.5h-1.5zM230.82 202.05h1.5v1.5h-1.5zM233.6 202.05h1.5v1.5h-1.5zM236.38 202.05h1.5v1.5h-1.5zM239.17 202.05h1.5v1.5h-1.5zM241.95 202.05h1.5v1.5h-1.5zM244.73 202.05h1.5v1.5h-1.5zM247.52 202.05h1.5v1.5h-1.5zM250.3 202.05h1.5v1.5h-1.5zM253.08 202.05h1.5v1.5h-1.5zM255.87 202.05h1.5v1.5h-1.5zM258.65 202.05h1.5v1.5h-1.5zM230.75 203.75h1.5v1.5h-1.5zM233.58 203.75h1.5v1.5h-1.5zM236.41 203.75h1.5v1.5h-1.5zM239.24 203.75h1.5v1.5h-1.5zM242.06 203.75h1.5v1.5h-1.5zM244.89 203.75h1.5v1.5h-1.5zM247.72 203.75h1.5v1.5h-1.5zM250.55 203.75h1.5v1.5h-1.5zM233.55 205.45h1.5v1.5h-1.5zM236.39 205.45h1.5v1.5h-1.5zM239.23 205.45h1.5v1.5h-1.5zM242.07 205.45h1.5v1.5h-1.5zM244.91 205.45h1.5v1.5h-1.5zM247.75 205.45h1.5v1.5h-1.5zM233.55 208.75h1.5v1.5h-1.5zM236.36 208.75h1.5v1.5h-1.5zM239.18 208.75h1.5v1.5h-1.5zM241.99 208.75h1.5v1.5h-1.5zM244.81 208.75h1.5v1.5h-1.5zM247.62 208.75h1.5v1.5h-1.5zM250.44 208.75h1.5v1.5h-1.5zM253.25 208.75h1.5v1.5h-1.5zM239.05 210.25h1.5v1.5h-1.5zM242.1 210.25h1.5v1.5h-1.5zM245.15 210.25h1.5v1.5h-1.5zM242.05 213.25h1.5v1.5h-1.5zM242.05 218.35h1.5v1.5h-1.5z" fill="#3a3a3a"/>
<path d="M300.85 184.05h1.5v1.5h-1.5zM297.95 187.35h1.5v1.5h-1.5zM303.65 187.35h1.5v1.5h-1.5zM306.55 187.35h1.5v1.5h-1.5zM300.85 189.05h1.5v1.5h-1.5zM297.95 192.55h1.5v1.5h-1.5zM300.85 192.55h1.5v1.5h-1.5zM303.65 193.65h1.5v1.5h-1.5zM306.55 193.65h1.5v1.5h-1.5zM300.85 195.35h1.5v1.5h-1.5zM286.95 197.15h1.5v1.5h-1.5zM289.74 197.15h1.5v1.5h-1.5zM292.53 197.15h1.5v1.5h-1.5zM295.32 197.15h1.5v1.5h-1.5zM298.11 197.15h1.5v1.5h-1.5zM300.89 197.15h1.5v1.5h-1.5zM303.68 197.15h1.5v1.5h-1.5zM306.47 197.15h1.5v1.5h-1.5zM309.26 197.15h1.5v1.5h-1.5zM312.05 197.15h1.5v1.5h-1.5zM286.95 199.05h1.5v1.5h-1.5zM289.72 199.05h1.5v1.5h-1.5zM292.49 199.05h1.5v1.5h-1.5zM295.26 199.05h1.5v1.5h-1.5zM298.03 199.05h1.5v1.5h-1.5zM300.8 199.05h1.5v1.5h-1.5zM303.57 199.05h1.5v1.5h-1.5zM306.34 199.05h1.5v1.5h-1.5zM309.11 199.05h1.5v1.5h-1.5zM311.88 199.05h1.5v1.5h-1.5zM314.65 199.05h1.5v1.5h-1.5zM297.95 201.15h1.5v1.5h-1.5zM300.77 201.15h1.5v1.5h-1.5zM303.6 201.15h1.5v1.5h-1.5zM306.43 201.15h1.5v1.5h-1.5zM309.25 201.15h1.5v1.5h-1.5zM284.05 203.25h1.5v1.5h-1.5zM286.84 203.25h1.5v1.5h-1.5zM289.63 203.25h1.5v1.5h-1.5zM292.43 203.25h1.5v1.5h-1.5zM295.22 203.25h1.5v1.5h-1.5zM298.01 203.25h1.5v1.5h-1.5zM300.8 203.25h1.5v1.5h-1.5zM303.59 203.25h1.5v1.5h-1.5zM306.38 203.25h1.5v1.5h-1.5zM309.18 203.25h1.5v1.5h-1.5zM311.97 203.25h1.5v1.5h-1.5zM314.76 203.25h1.5v1.5h-1.5zM317.55 203.25h1.5v1.5h-1.5zM284.05 204.85h1.5v1.5h-1.5zM286.84 204.85h1.5v1.5h-1.5zM289.63 204.85h1.5v1.5h-1.5zM292.43 204.85h1.5v1.5h-1.5zM295.22 204.85h1.5v1.5h-1.5zM298.01 204.85h1.5v1.5h-1.5zM300.8 204.85h1.5v1.5h-1.5zM303.59 204.85h1.5v1.5h-1.5zM306.38 204.85h1.5v1.5h-1.5zM309.18 204.85h1.5v1.5h-1.5zM311.97 204.85h1.5v1.5h-1.5zM314.76 204.85h1.5v1.5h-1.5zM317.55 204.85h1.5v1.5h-1.5zM286.95 206.75h1.5v1.5h-1.5zM289.72 206.75h1.5v1.5h-1.5zM292.49 206.75h1.5v1.5h-1.5zM295.26 206.75h1.5v1.5h-1.5zM298.03 206.75h1.5v1.5h-1.5zM300.8 206.75h1.5v1.5h-1.5zM303.57 206.75h1.5v1.5h-1.5zM306.34 206.75h1.5v1.5h-1.5zM309.11 206.75h1.5v1.5h-1.5zM311.88 206.75h1.5v1.5h-1.5zM314.65 206.75h1.5v1.5h-1.5zM284.05 209.45h1.5v1.5h-1.5zM286.84 209.45h1.5v1.5h-1.5zM289.63 209.45h1.5v1.5h-1.5zM292.43 209.45h1.5v1.5h-1.5zM295.22 209.45h1.5v1.5h-1.5zM298.01 209.45h1.5v1.5h-1.5zM300.8 209.45h1.5v1.5h-1.5zM303.59 209.45h1.5v1.5h-1.5zM306.38 209.45h1.5v1.5h-1.5zM309.18 209.45h1.5v1.5h-1.5zM311.97 209.45h1.5v1.5h-1.5zM314.76 209.45h1.5v1.5h-1.5zM317.55 209.45h1.5v1.5h-1.5zM292.75 211.35h1.5v1.5h-1.5zM295.5 211.35h1.5v1.5h-1.5zM298.25 211.35h1.5v1.5h-1.5zM301 211.35h1.5v1.5h-1.5zM303.75 211.35h1.5v1.5h-1.5zM306.5 211.35h1.5v1.5h-1.5zM309.25 211.35h1.5v1.5h-1.5zM295.45 213.85h1.5v1.5h-1.5zM298.23 213.85h1.5v1.5h-1.5zM301 213.85h1.5v1.5h-1.5zM303.77 213.85h1.5v1.5h-1.5zM306.55 213.85h1.5v1.5h-1.5zM297.95 215.95h1.5v1.5h-1.5zM300.85 215.95h1.5v1.5h-1.5z" fill="#3a3a3a"/>
<path d="M282 204.8H321.7" stroke="#2e2e2e" stroke-width="1.0"/>
<path d="M382.3 143.3V234.3H521" stroke="#6e6e6e" stroke-width="1" fill="none"/>
<path d="M379.7 143.3H382.3M379.7 161.5H382.3M379.7 179.7H382.3M379.7 197.9H382.3M379.7 216.1H382.3M379.7 234.3H382.3" stroke="#6e6e6e" stroke-width="1" fill="none"/>
<text transform="translate(378.7 145.75) scale(1 1.13)" text-anchor="end" class="t">3000</text>
<text transform="translate(378.7 163.95) scale(1 1.13)" text-anchor="end" class="t">2500</text>
<text transform="translate(378.7 182.15) scale(1 1.13)" text-anchor="end" class="t">2000</text>
<text transform="translate(378.7 200.35) scale(1 1.13)" text-anchor="end" class="t">1500</text>
<text transform="translate(378.7 218.55) scale(1 1.13)" text-anchor="end" class="t">1000</text>
<text transform="translate(378.7 236.75) scale(1 1.13)" text-anchor="end" class="t">500</text>
<text transform="translate(360.1 185.5) rotate(-90) scale(0.955 1)" text-anchor="middle" class="ti">Mcl-1 expression (MESF)</text>
<text x="383.2" y="132.4" class="L">F</text>
<path d="M420.8 155.1V138.5H479.5V157.7" stroke="#6e6e6e" stroke-width="1" fill="none"/>
<text transform="translate(439.2 135.3) scale(1 1.03)" class="t"><tspan font-style="italic">P</tspan> < .001</text>
<text transform="translate(421.9 243.35) scale(1 1.13)" text-anchor="middle" class="t">&lt;20% CD38</text>
<text transform="translate(479.5 243.35) scale(1 1.13)" text-anchor="middle" class="t">≥20% CD38</text>
<path d="M402 203.9H441.7" stroke="#9a9a9a" stroke-width="1.1"/>
<path d="M420.85 160.55h1.5v1.5h-1.5zM420.85 169.05h1.5v1.5h-1.5zM417.95 179.85h1.5v1.5h-1.5zM423.65 179.85h1.5v1.5h-1.5zM426.55 179.85h1.5v1.5h-1.5zM417.95 181.75h1.5v1.5h-1.5zM420.85 181.75h1.5v1.5h-1.5zM420.85 183.65h1.5v1.5h-1.5zM415.05 187.25h1.5v1.5h-1.5zM417.93 187.25h1.5v1.5h-1.5zM420.8 187.25h1.5v1.5h-1.5zM423.68 187.25h1.5v1.5h-1.5zM426.55 187.25h1.5v1.5h-1.5zM415.05 189.25h1.5v1.5h-1.5zM417.93 189.25h1.5v1.5h-1.5zM420.8 189.25h1.5v1.5h-1.5zM423.68 189.25h1.5v1.5h-1.5zM426.55 189.25h1.5v1.5h-1.5zM406.95 191.45h1.5v1.5h-1.5zM409.72 191.45h1.5v1.5h-1.5zM412.49 191.45h1.5v1.5h-1.5zM415.26 191.45h1.5v1.5h-1.5zM418.03 191.45h1.5v1.5h-1.5zM420.8 191.45h1.5v1.5h-1.5zM423.57 191.45h1.5v1.5h-1.5zM426.34 191.45h1.5v1.5h-1.5zM429.11 191.45h1.5v1.5h-1.5zM431.88 191.45h1.5v1.5h-1.5zM434.65 191.45h1.5v1.5h-1.5zM412.75 194.25h1.5v1.5h-1.5zM417.95 194.25h1.5v1.5h-1.5zM420.82 194.25h1.5v1.5h-1.5zM423.68 194.25h1.5v1.5h-1.5zM426.55 194.25h1.5v1.5h-1.5zM415.35 196.75h1.5v1.5h-1.5zM418.15 196.75h1.5v1.5h-1.5zM420.95 196.75h1.5v1.5h-1.5zM423.75 196.75h1.5v1.5h-1.5zM426.55 196.75h1.5v1.5h-1.5zM409.85 200.05h1.5v1.5h-1.5zM412.6 200.05h1.5v1.5h-1.5zM415.35 200.05h1.5v1.5h-1.5zM420.85 200.05h1.5v1.5h-1.5zM423.65 200.05h1.5v1.5h-1.5zM426.45 200.05h1.5v1.5h-1.5zM429.25 200.05h1.5v1.5h-1.5zM432.05 200.05h1.5v1.5h-1.5zM420.85 201.35h1.5v1.5h-1.5zM423.65 201.35h1.5v1.5h-1.5zM417.95 203.15h1.5v1.5h-1.5zM420.82 203.15h1.5v1.5h-1.5zM423.68 203.15h1.5v1.5h-1.5zM426.55 203.15h1.5v1.5h-1.5zM406.95 205.75h1.5v1.5h-1.5zM409.74 205.75h1.5v1.5h-1.5zM412.53 205.75h1.5v1.5h-1.5zM415.32 205.75h1.5v1.5h-1.5zM418.11 205.75h1.5v1.5h-1.5zM420.89 205.75h1.5v1.5h-1.5zM423.68 205.75h1.5v1.5h-1.5zM426.47 205.75h1.5v1.5h-1.5zM429.26 205.75h1.5v1.5h-1.5zM432.05 205.75h1.5v1.5h-1.5zM417.95 207.75h1.5v1.5h-1.5zM420.8 207.75h1.5v1.5h-1.5zM423.65 207.75h1.5v1.5h-1.5zM406.95 209.45h1.5v1.5h-1.5zM409.73 209.45h1.5v1.5h-1.5zM412.51 209.45h1.5v1.5h-1.5zM415.3 209.45h1.5v1.5h-1.5zM418.08 209.45h1.5v1.5h-1.5zM420.86 209.45h1.5v1.5h-1.5zM423.64 209.45h1.5v1.5h-1.5zM426.42 209.45h1.5v1.5h-1.5zM429.2 209.45h1.5v1.5h-1.5zM431.99 209.45h1.5v1.5h-1.5zM434.77 209.45h1.5v1.5h-1.5zM437.55 209.45h1.5v1.5h-1.5zM415.35 210.85h1.5v1.5h-1.5zM418.13 210.85h1.5v1.5h-1.5zM420.92 210.85h1.5v1.5h-1.5zM423.7 210.85h1.5v1.5h-1.5zM426.48 210.85h1.5v1.5h-1.5zM429.27 210.85h1.5v1.5h-1.5zM432.05 210.85h1.5v1.5h-1.5zM406.95 212.95h1.5v1.5h-1.5zM409.74 212.95h1.5v1.5h-1.5zM412.53 212.95h1.5v1.5h-1.5zM415.32 212.95h1.5v1.5h-1.5zM418.11 212.95h1.5v1.5h-1.5zM420.89 212.95h1.5v1.5h-1.5zM423.68 212.95h1.5v1.5h-1.5zM426.47 212.95h1.5v1.5h-1.5zM429.26 212.95h1.5v1.5h-1.5zM432.05 212.95h1.5v1.5h-1.5zM415.35 215.05h1.5v1.5h-1.5zM418.15 215.05h1.5v1.5h-1.5zM420.95 215.05h1.5v1.5h-1.5zM423.75 215.05h1.5v1.5h-1.5zM426.55 215.05h1.5v1.5h-1.5zM417.95 216.95h1.5v1.5h-1.5zM420.8 216.95h1.5v1.5h-1.5zM423.65 216.95h1.5v1.5h-1.5zM417.95 220.45h1.5v1.5h-1.5zM420.85 220.45h1.5v1.5h-1.5zM417.95 222.15h1.5v1.5h-1.5zM420.85 222.15h1.5v1.5h-1.5zM420.85 224.45h1.5v1.5h-1.5z" fill="#3a3a3a"/>
<path d="M479.45 162.05h1.5v1.5h-1.5zM476.75 164.05h1.5v1.5h-1.5zM482.45 164.05h1.5v1.5h-1.5zM479.45 165.75h1.5v1.5h-1.5zM479.45 170.95h1.5v1.5h-1.5zM482.45 170.95h1.5v1.5h-1.5zM479.45 174.05h1.5v1.5h-1.5zM479.45 177.25h1.5v1.5h-1.5zM482.45 177.25h1.5v1.5h-1.5zM471.15 178.75h1.5v1.5h-1.5zM485.05 179.65h1.5v1.5h-1.5zM474.05 180.75h1.5v1.5h-1.5zM476.85 180.75h1.5v1.5h-1.5zM479.65 180.75h1.5v1.5h-1.5zM482.45 180.75h1.5v1.5h-1.5zM490.55 183.05h1.5v1.5h-1.5zM471.15 184.25h1.5v1.5h-1.5zM473.95 184.25h1.5v1.5h-1.5zM476.75 184.25h1.5v1.5h-1.5zM482.45 184.25h1.5v1.5h-1.5zM485.15 184.25h1.5v1.5h-1.5zM487.85 184.25h1.5v1.5h-1.5zM479.45 185.35h1.5v1.5h-1.5zM468.65 187.05h1.5v1.5h-1.5zM487.85 187.05h1.5v1.5h-1.5zM471.15 188.55h1.5v1.5h-1.5zM473.92 188.55h1.5v1.5h-1.5zM476.69 188.55h1.5v1.5h-1.5zM479.46 188.55h1.5v1.5h-1.5zM482.24 188.55h1.5v1.5h-1.5zM485.01 188.55h1.5v1.5h-1.5zM487.78 188.55h1.5v1.5h-1.5zM490.55 188.55h1.5v1.5h-1.5zM471.15 190.15h1.5v1.5h-1.5zM474.38 190.15h1.5v1.5h-1.5zM477.62 190.15h1.5v1.5h-1.5zM480.85 190.15h1.5v1.5h-1.5zM484.08 190.15h1.5v1.5h-1.5zM487.32 190.15h1.5v1.5h-1.5zM490.55 190.15h1.5v1.5h-1.5zM462.85 192.65h1.5v1.5h-1.5zM465.61 192.65h1.5v1.5h-1.5zM468.37 192.65h1.5v1.5h-1.5zM471.12 192.65h1.5v1.5h-1.5zM473.88 192.65h1.5v1.5h-1.5zM476.64 192.65h1.5v1.5h-1.5zM479.4 192.65h1.5v1.5h-1.5zM482.16 192.65h1.5v1.5h-1.5zM484.92 192.65h1.5v1.5h-1.5zM487.68 192.65h1.5v1.5h-1.5zM490.43 192.65h1.5v1.5h-1.5zM493.19 192.65h1.5v1.5h-1.5zM495.95 192.65h1.5v1.5h-1.5zM471.15 194.45h1.5v1.5h-1.5zM473.93 194.45h1.5v1.5h-1.5zM476.72 194.45h1.5v1.5h-1.5zM479.5 194.45h1.5v1.5h-1.5zM482.28 194.45h1.5v1.5h-1.5zM485.07 194.45h1.5v1.5h-1.5zM487.85 194.45h1.5v1.5h-1.5zM465.65 196.25h1.5v1.5h-1.5zM468.39 196.25h1.5v1.5h-1.5zM471.13 196.25h1.5v1.5h-1.5zM473.87 196.25h1.5v1.5h-1.5zM476.61 196.25h1.5v1.5h-1.5zM479.35 196.25h1.5v1.5h-1.5zM482.09 196.25h1.5v1.5h-1.5zM484.83 196.25h1.5v1.5h-1.5zM487.57 196.25h1.5v1.5h-1.5zM490.31 196.25h1.5v1.5h-1.5zM493.05 196.25h1.5v1.5h-1.5zM474.05 197.95h1.5v1.5h-1.5zM476.85 197.95h1.5v1.5h-1.5zM479.65 197.95h1.5v1.5h-1.5zM482.45 197.95h1.5v1.5h-1.5zM474.05 200.05h1.5v1.5h-1.5zM479.45 200.05h1.5v1.5h-1.5zM476.75 201.35h1.5v1.5h-1.5zM479.6 201.35h1.5v1.5h-1.5zM482.45 201.35h1.5v1.5h-1.5zM468.65 203.15h1.5v1.5h-1.5zM471.35 203.15h1.5v1.5h-1.5zM474.05 203.15h1.5v1.5h-1.5zM476.75 203.15h1.5v1.5h-1.5zM479.45 203.15h1.5v1.5h-1.5zM485.25 203.15h1.5v1.5h-1.5zM487.9 203.15h1.5v1.5h-1.5zM490.55 203.15h1.5v1.5h-1.5zM479.45 205.05h1.5v1.5h-1.5zM482.45 205.05h1.5v1.5h-1.5zM479.45 207.75h1.5v1.5h-1.5zM482.45 207.75h1.5v1.5h-1.5zM474.05 209.45h1.5v1.5h-1.5zM476.75 209.45h1.5v1.5h-1.5zM479.45 209.45h1.5v1.5h-1.5zM485.25 209.45h1.5v1.5h-1.5zM479.45 211.25h1.5v1.5h-1.5zM482.45 211.25h1.5v1.5h-1.5zM476.75 213.55h1.5v1.5h-1.5zM482.45 213.55h1.5v1.5h-1.5zM479.45 215.85h1.5v1.5h-1.5zM476.75 218.65h1.5v1.5h-1.5zM479.45 219.85h1.5v1.5h-1.5zM482.45 219.85h1.5v1.5h-1.5z" fill="#3a3a3a"/>
<path d="M460.4 193.3H500.2" stroke="#2e2e2e" stroke-width="1.0"/>
<path d="M31.4 271.1V360.9H165.9" stroke="#6e6e6e" stroke-width="1" fill="none"/>
<path d="M28.8 271.1H31.4M28.8 289.06H31.4M28.8 307.02H31.4M28.8 324.98H31.4M28.8 342.94H31.4M28.8 360.9H31.4" stroke="#6e6e6e" stroke-width="1" fill="none"/>
<text transform="translate(27.8 273.55) scale(1 1.13)" text-anchor="end" class="t">30000</text>
<text transform="translate(27.8 291.51) scale(1 1.13)" text-anchor="end" class="t">25000</text>
<text transform="translate(27.8 309.47) scale(1 1.13)" text-anchor="end" class="t">20000</text>
<text transform="translate(27.8 327.43) scale(1 1.13)" text-anchor="end" class="t">15000</text>
<text transform="translate(27.8 345.39) scale(1 1.13)" text-anchor="end" class="t">10000</text>
<text transform="translate(27.8 363.35) scale(1 1.13)" text-anchor="end" class="t">5000</text>
<text transform="translate(5.4 312.5) rotate(-90) scale(0.955 1)" text-anchor="middle" class="ti">Bcl-2 expression (MESF)</text>
<text x="32.3" y="264.2" class="L">G</text>
<path d="M69.6 276.9V263.5H125.2V276.9" stroke="#6e6e6e" stroke-width="1" fill="none"/>
<text transform="translate(87.1 260.5) scale(1 1.03)" class="t"><tspan font-style="italic">P</tspan> = .44</text>
<text transform="translate(69.75 369.65) scale(1 1.13)" text-anchor="middle" class="t">&lt;20% ZAP-70</text>
<text transform="translate(127.6 369.65) scale(1 1.13)" text-anchor="middle" class="t">≥20% ZAP-70</text>
<path d="M51.5 320.4H89.6" stroke="#9a9a9a" stroke-width="1.1"/>
<path d="M69.05 282.45h1.5v1.5h-1.5zM69.05 287.05h1.5v1.5h-1.5zM69.05 297.45h1.5v1.5h-1.5zM69.05 301.25h1.5v1.5h-1.5zM71.75 301.25h1.5v1.5h-1.5zM66.35 304.35h1.5v1.5h-1.5zM71.75 304.35h1.5v1.5h-1.5zM69.05 305.55h1.5v1.5h-1.5zM60.55 306.65h1.5v1.5h-1.5zM63.45 306.65h1.5v1.5h-1.5zM74.45 306.65h1.5v1.5h-1.5zM77.35 306.65h1.5v1.5h-1.5zM66.35 308.65h1.5v1.5h-1.5zM69.05 308.65h1.5v1.5h-1.5zM71.75 308.65h1.5v1.5h-1.5zM57.75 310.95h1.5v1.5h-1.5zM60.56 310.95h1.5v1.5h-1.5zM63.38 310.95h1.5v1.5h-1.5zM66.19 310.95h1.5v1.5h-1.5zM69 310.95h1.5v1.5h-1.5zM71.81 310.95h1.5v1.5h-1.5zM74.62 310.95h1.5v1.5h-1.5zM77.44 310.95h1.5v1.5h-1.5zM80.25 310.95h1.5v1.5h-1.5zM60.55 312.45h1.5v1.5h-1.5zM63.91 312.45h1.5v1.5h-1.5zM67.27 312.45h1.5v1.5h-1.5zM70.63 312.45h1.5v1.5h-1.5zM73.99 312.45h1.5v1.5h-1.5zM77.35 312.45h1.5v1.5h-1.5zM60.55 313.85h1.5v1.5h-1.5zM63.45 313.85h1.5v1.5h-1.5zM66.35 313.85h1.5v1.5h-1.5zM74.45 313.85h1.5v1.5h-1.5zM77.35 313.85h1.5v1.5h-1.5zM66.35 315.05h1.5v1.5h-1.5zM69.05 315.05h1.5v1.5h-1.5zM71.75 315.05h1.5v1.5h-1.5zM60.55 317.35h1.5v1.5h-1.5zM63.35 317.35h1.5v1.5h-1.5zM66.15 317.35h1.5v1.5h-1.5zM68.95 317.35h1.5v1.5h-1.5zM71.75 317.35h1.5v1.5h-1.5zM74.55 317.35h1.5v1.5h-1.5zM77.35 317.35h1.5v1.5h-1.5zM52.55 319.65h1.5v1.5h-1.5zM55.28 319.65h1.5v1.5h-1.5zM58.02 319.65h1.5v1.5h-1.5zM60.75 319.65h1.5v1.5h-1.5zM63.48 319.65h1.5v1.5h-1.5zM66.22 319.65h1.5v1.5h-1.5zM68.95 319.65h1.5v1.5h-1.5zM71.68 319.65h1.5v1.5h-1.5zM74.42 319.65h1.5v1.5h-1.5zM77.15 319.65h1.5v1.5h-1.5zM79.88 319.65h1.5v1.5h-1.5zM82.62 319.65h1.5v1.5h-1.5zM85.35 319.65h1.5v1.5h-1.5zM55.35 322.85h1.5v1.5h-1.5zM58.12 322.85h1.5v1.5h-1.5zM60.88 322.85h1.5v1.5h-1.5zM63.65 322.85h1.5v1.5h-1.5zM66.42 322.85h1.5v1.5h-1.5zM69.18 322.85h1.5v1.5h-1.5zM71.95 322.85h1.5v1.5h-1.5zM74.72 322.85h1.5v1.5h-1.5zM77.48 322.85h1.5v1.5h-1.5zM80.25 322.85h1.5v1.5h-1.5zM55.35 324.85h1.5v1.5h-1.5zM57.75 324.85h1.5v1.5h-1.5zM82.55 324.85h1.5v1.5h-1.5zM60.55 326.55h1.5v1.5h-1.5zM63.36 326.55h1.5v1.5h-1.5zM66.18 326.55h1.5v1.5h-1.5zM68.99 326.55h1.5v1.5h-1.5zM71.81 326.55h1.5v1.5h-1.5zM74.62 326.55h1.5v1.5h-1.5zM77.44 326.55h1.5v1.5h-1.5zM80.25 326.55h1.5v1.5h-1.5zM57.75 328.65h1.5v1.5h-1.5zM69.05 328.65h1.5v1.5h-1.5zM71.75 328.65h1.5v1.5h-1.5zM63.45 330.05h1.5v1.5h-1.5zM66.23 330.05h1.5v1.5h-1.5zM69.01 330.05h1.5v1.5h-1.5zM71.79 330.05h1.5v1.5h-1.5zM74.57 330.05h1.5v1.5h-1.5zM77.35 330.05h1.5v1.5h-1.5zM63.45 331.75h1.5v1.5h-1.5zM66.23 331.75h1.5v1.5h-1.5zM69.01 331.75h1.5v1.5h-1.5zM71.79 331.75h1.5v1.5h-1.5zM74.57 331.75h1.5v1.5h-1.5zM77.35 331.75h1.5v1.5h-1.5zM69.05 333.45h1.5v1.5h-1.5zM71.75 333.45h1.5v1.5h-1.5zM63.45 335.25h1.5v1.5h-1.5zM66.35 335.25h1.5v1.5h-1.5zM69.05 336.75h1.5v1.5h-1.5zM66.35 339.85h1.5v1.5h-1.5zM71.75 339.85h1.5v1.5h-1.5zM69.05 342.15h1.5v1.5h-1.5z" fill="#3a3a3a"/>
<path d="M129.25 281.95h1.5v1.5h-1.5zM126.65 283.55h1.5v1.5h-1.5zM126.65 293.45h1.5v1.5h-1.5zM126.65 300.05h1.5v1.5h-1.5zM121.25 305.65h1.5v1.5h-1.5zM123.92 305.65h1.5v1.5h-1.5zM126.58 305.65h1.5v1.5h-1.5zM129.25 305.65h1.5v1.5h-1.5zM131.95 306.85h1.5v1.5h-1.5zM123.85 309.25h1.5v1.5h-1.5zM126.55 309.25h1.5v1.5h-1.5zM129.25 309.25h1.5v1.5h-1.5zM110.05 311.75h1.5v1.5h-1.5zM112.77 311.75h1.5v1.5h-1.5zM115.5 311.75h1.5v1.5h-1.5zM118.22 311.75h1.5v1.5h-1.5zM120.95 311.75h1.5v1.5h-1.5zM123.67 311.75h1.5v1.5h-1.5zM126.4 311.75h1.5v1.5h-1.5zM129.12 311.75h1.5v1.5h-1.5zM131.85 311.75h1.5v1.5h-1.5zM134.57 311.75h1.5v1.5h-1.5zM137.3 311.75h1.5v1.5h-1.5zM140.03 311.75h1.5v1.5h-1.5zM142.75 311.75h1.5v1.5h-1.5zM123.85 313.35h1.5v1.5h-1.5zM126.55 313.35h1.5v1.5h-1.5zM129.25 313.35h1.5v1.5h-1.5zM131.95 313.35h1.5v1.5h-1.5zM123.85 316.25h1.5v1.5h-1.5zM126.55 316.25h1.5v1.5h-1.5zM129.25 316.25h1.5v1.5h-1.5zM115.75 317.75h1.5v1.5h-1.5zM118.35 317.75h1.5v1.5h-1.5zM134.65 317.75h1.5v1.5h-1.5zM137.45 317.75h1.5v1.5h-1.5zM110.05 319.65h1.5v1.5h-1.5zM112.77 319.65h1.5v1.5h-1.5zM115.5 319.65h1.5v1.5h-1.5zM118.22 319.65h1.5v1.5h-1.5zM120.95 319.65h1.5v1.5h-1.5zM123.67 319.65h1.5v1.5h-1.5zM126.4 319.65h1.5v1.5h-1.5zM129.12 319.65h1.5v1.5h-1.5zM131.85 319.65h1.5v1.5h-1.5zM134.57 319.65h1.5v1.5h-1.5zM137.3 319.65h1.5v1.5h-1.5zM140.03 319.65h1.5v1.5h-1.5zM142.75 319.65h1.5v1.5h-1.5zM110.05 321.45h1.5v1.5h-1.5zM112.77 321.45h1.5v1.5h-1.5zM115.5 321.45h1.5v1.5h-1.5zM118.22 321.45h1.5v1.5h-1.5zM120.95 321.45h1.5v1.5h-1.5zM123.67 321.45h1.5v1.5h-1.5zM126.4 321.45h1.5v1.5h-1.5zM129.12 321.45h1.5v1.5h-1.5zM131.85 321.45h1.5v1.5h-1.5zM134.57 321.45h1.5v1.5h-1.5zM137.3 321.45h1.5v1.5h-1.5zM140.03 321.45h1.5v1.5h-1.5zM142.75 321.45h1.5v1.5h-1.5zM118.35 323.05h1.5v1.5h-1.5zM121.61 323.05h1.5v1.5h-1.5zM124.87 323.05h1.5v1.5h-1.5zM128.13 323.05h1.5v1.5h-1.5zM131.39 323.05h1.5v1.5h-1.5zM134.65 323.05h1.5v1.5h-1.5zM123.85 325.25h1.5v1.5h-1.5zM126.55 325.25h1.5v1.5h-1.5zM129.25 325.25h1.5v1.5h-1.5zM131.95 325.25h1.5v1.5h-1.5zM123.85 327.25h1.5v1.5h-1.5zM126.55 327.25h1.5v1.5h-1.5zM129.25 327.25h1.5v1.5h-1.5zM131.95 327.25h1.5v1.5h-1.5zM121.25 330.35h1.5v1.5h-1.5zM123.92 330.35h1.5v1.5h-1.5zM126.58 330.35h1.5v1.5h-1.5zM129.25 330.35h1.5v1.5h-1.5zM126.65 334.05h1.5v1.5h-1.5zM123.85 336.95h1.5v1.5h-1.5zM126.65 339.65h1.5v1.5h-1.5zM123.85 341.55h1.5v1.5h-1.5zM126.55 341.55h1.5v1.5h-1.5zM129.25 341.55h1.5v1.5h-1.5z" fill="#3a3a3a"/>
<path d="M108.7 320.4H146.7" stroke="#2e2e2e" stroke-width="1.0"/>
<path d="M205.4 269.7V361.4H342.9" stroke="#6e6e6e" stroke-width="1" fill="none"/>
<path d="M202.8 269.7H205.4M202.8 284.98H205.4M202.8 300.27H205.4M202.8 315.55H205.4M202.8 330.83H205.4M202.8 346.12H205.4M202.8 361.4H205.4" stroke="#6e6e6e" stroke-width="1" fill="none"/>
<text transform="translate(201.8 272.15) scale(1 1.13)" text-anchor="end" class="t">3500</text>
<text transform="translate(201.8 287.43) scale(1 1.13)" text-anchor="end" class="t">3000</text>
<text transform="translate(201.8 302.72) scale(1 1.13)" text-anchor="end" class="t">2500</text>
<text transform="translate(201.8 318) scale(1 1.13)" text-anchor="end" class="t">2000</text>
<text transform="translate(201.8 333.28) scale(1 1.13)" text-anchor="end" class="t">1500</text>
<text transform="translate(201.8 348.57) scale(1 1.13)" text-anchor="end" class="t">1000</text>
<text transform="translate(201.8 363.85) scale(1 1.13)" text-anchor="end" class="t">500</text>
<text transform="translate(182.6 312) rotate(-90) scale(0.955 1)" text-anchor="middle" class="ti">Bax expression (MESF)</text>
<text x="207" y="264" class="L">H</text>
<path d="M245.8 285V272H303.5V277.4" stroke="#6e6e6e" stroke-width="1" fill="none"/>
<text transform="translate(263.9 268) scale(1 1.03)" class="t"><tspan font-style="italic">P</tspan> = .29</text>
<text transform="translate(244.35 369.95) scale(1 1.13)" text-anchor="middle" class="t">&lt;20% ZAP-70</text>
<text transform="translate(303.9 369.95) scale(1 1.13)" text-anchor="middle" class="t">≥20% ZAP-70</text>
<path d="M225.8 327.6H263.3" stroke="#9a9a9a" stroke-width="1.1"/>
<path d="M243.85 291.65h1.5v1.5h-1.5zM243.85 299.75h1.5v1.5h-1.5zM243.85 304.85h1.5v1.5h-1.5zM241.25 307.55h1.5v1.5h-1.5zM243.85 309.15h1.5v1.5h-1.5zM238.35 311.25h1.5v1.5h-1.5zM249.65 311.25h1.5v1.5h-1.5zM238.35 312.65h1.5v1.5h-1.5zM241.12 312.65h1.5v1.5h-1.5zM243.88 312.65h1.5v1.5h-1.5zM246.65 312.65h1.5v1.5h-1.5zM232.55 314.35h1.5v1.5h-1.5zM235.36 314.35h1.5v1.5h-1.5zM238.18 314.35h1.5v1.5h-1.5zM240.99 314.35h1.5v1.5h-1.5zM243.8 314.35h1.5v1.5h-1.5zM246.61 314.35h1.5v1.5h-1.5zM249.43 314.35h1.5v1.5h-1.5zM252.24 314.35h1.5v1.5h-1.5zM255.05 314.35h1.5v1.5h-1.5zM238.35 315.85h1.5v1.5h-1.5zM241.18 315.85h1.5v1.5h-1.5zM244 315.85h1.5v1.5h-1.5zM246.82 315.85h1.5v1.5h-1.5zM249.65 315.85h1.5v1.5h-1.5zM238.35 318.85h1.5v1.5h-1.5zM241.18 318.85h1.5v1.5h-1.5zM244 318.85h1.5v1.5h-1.5zM246.82 318.85h1.5v1.5h-1.5zM249.65 318.85h1.5v1.5h-1.5zM241.25 322.25h1.5v1.5h-1.5zM243.85 322.25h1.5v1.5h-1.5zM227.35 323.35h1.5v1.5h-1.5zM230.25 323.35h1.5v1.5h-1.5zM255.05 323.35h1.5v1.5h-1.5zM257.75 323.35h1.5v1.5h-1.5zM260.45 323.35h1.5v1.5h-1.5zM227.35 324.85h1.5v1.5h-1.5zM230.11 324.85h1.5v1.5h-1.5zM232.87 324.85h1.5v1.5h-1.5zM235.62 324.85h1.5v1.5h-1.5zM238.38 324.85h1.5v1.5h-1.5zM241.14 324.85h1.5v1.5h-1.5zM243.9 324.85h1.5v1.5h-1.5zM246.66 324.85h1.5v1.5h-1.5zM249.42 324.85h1.5v1.5h-1.5zM252.17 324.85h1.5v1.5h-1.5zM254.93 324.85h1.5v1.5h-1.5zM257.69 324.85h1.5v1.5h-1.5zM260.45 324.85h1.5v1.5h-1.5zM232.55 326.45h1.5v1.5h-1.5zM236.15 326.45h1.5v1.5h-1.5zM239.75 326.45h1.5v1.5h-1.5zM243.35 326.45h1.5v1.5h-1.5zM246.95 326.45h1.5v1.5h-1.5zM250.55 326.45h1.5v1.5h-1.5zM254.15 326.45h1.5v1.5h-1.5zM257.75 326.45h1.5v1.5h-1.5zM227.35 328.55h1.5v1.5h-1.5zM230.11 328.55h1.5v1.5h-1.5zM232.87 328.55h1.5v1.5h-1.5zM235.62 328.55h1.5v1.5h-1.5zM238.38 328.55h1.5v1.5h-1.5zM241.14 328.55h1.5v1.5h-1.5zM243.9 328.55h1.5v1.5h-1.5zM246.66 328.55h1.5v1.5h-1.5zM249.42 328.55h1.5v1.5h-1.5zM252.17 328.55h1.5v1.5h-1.5zM254.93 328.55h1.5v1.5h-1.5zM257.69 328.55h1.5v1.5h-1.5zM260.45 328.55h1.5v1.5h-1.5zM229.75 330.75h1.5v1.5h-1.5zM232.82 330.75h1.5v1.5h-1.5zM235.89 330.75h1.5v1.5h-1.5zM238.96 330.75h1.5v1.5h-1.5zM242.03 330.75h1.5v1.5h-1.5zM245.1 330.75h1.5v1.5h-1.5zM248.17 330.75h1.5v1.5h-1.5zM251.24 330.75h1.5v1.5h-1.5zM254.31 330.75h1.5v1.5h-1.5zM257.38 330.75h1.5v1.5h-1.5zM260.45 330.75h1.5v1.5h-1.5zM243.85 334.25h1.5v1.5h-1.5zM230.25 335.75h1.5v1.5h-1.5zM233 335.75h1.5v1.5h-1.5zM235.74 335.75h1.5v1.5h-1.5zM238.49 335.75h1.5v1.5h-1.5zM241.23 335.75h1.5v1.5h-1.5zM243.98 335.75h1.5v1.5h-1.5zM246.72 335.75h1.5v1.5h-1.5zM249.47 335.75h1.5v1.5h-1.5zM252.21 335.75h1.5v1.5h-1.5zM254.96 335.75h1.5v1.5h-1.5zM257.7 335.75h1.5v1.5h-1.5zM260.45 335.75h1.5v1.5h-1.5zM238.35 337.55h1.5v1.5h-1.5zM241.13 337.55h1.5v1.5h-1.5zM243.91 337.55h1.5v1.5h-1.5zM246.69 337.55h1.5v1.5h-1.5zM249.47 337.55h1.5v1.5h-1.5zM252.25 337.55h1.5v1.5h-1.5zM241.25 341.45h1.5v1.5h-1.5zM243.85 341.45h1.5v1.5h-1.5zM243.85 342.65h1.5v1.5h-1.5zM243.85 345.55h1.5v1.5h-1.5z" fill="#3a3a3a"/>
<path d="M302.65 281.05h1.5v1.5h-1.5zM302.65 291.95h1.5v1.5h-1.5zM300.05 301.75h1.5v1.5h-1.5zM308.45 301.75h1.5v1.5h-1.5zM302.65 302.95h1.5v1.5h-1.5zM305.55 302.95h1.5v1.5h-1.5zM302.65 310.05h1.5v1.5h-1.5zM305.55 313.55h1.5v1.5h-1.5zM302.65 314.65h1.5v1.5h-1.5zM297.25 315.95h1.5v1.5h-1.5zM305.55 316.75h1.5v1.5h-1.5zM300.05 317.95h1.5v1.5h-1.5zM302.65 318.45h1.5v1.5h-1.5zM297.25 319.65h1.5v1.5h-1.5zM300.05 319.65h1.5v1.5h-1.5zM308.45 319.65h1.5v1.5h-1.5zM305.55 321.05h1.5v1.5h-1.5zM302.65 321.75h1.5v1.5h-1.5zM297.25 324.85h1.5v1.5h-1.5zM300.05 324.85h1.5v1.5h-1.5zM302.85 324.85h1.5v1.5h-1.5zM305.65 324.85h1.5v1.5h-1.5zM308.45 324.85h1.5v1.5h-1.5zM288.85 326.55h1.5v1.5h-1.5zM291.75 326.55h1.5v1.5h-1.5zM311.35 326.55h1.5v1.5h-1.5zM313.95 326.55h1.5v1.5h-1.5zM316.55 326.55h1.5v1.5h-1.5zM294.55 327.15h1.5v1.5h-1.5zM297.33 327.15h1.5v1.5h-1.5zM300.11 327.15h1.5v1.5h-1.5zM302.89 327.15h1.5v1.5h-1.5zM305.67 327.15h1.5v1.5h-1.5zM308.45 327.15h1.5v1.5h-1.5zM294.55 328.85h1.5v1.5h-1.5zM297.33 328.85h1.5v1.5h-1.5zM300.11 328.85h1.5v1.5h-1.5zM302.89 328.85h1.5v1.5h-1.5zM305.67 328.85h1.5v1.5h-1.5zM308.45 328.85h1.5v1.5h-1.5zM285.95 330.55h1.5v1.5h-1.5zM288.74 330.55h1.5v1.5h-1.5zM291.53 330.55h1.5v1.5h-1.5zM294.32 330.55h1.5v1.5h-1.5zM297.12 330.55h1.5v1.5h-1.5zM299.91 330.55h1.5v1.5h-1.5zM302.7 330.55h1.5v1.5h-1.5zM305.49 330.55h1.5v1.5h-1.5zM308.28 330.55h1.5v1.5h-1.5zM311.07 330.55h1.5v1.5h-1.5zM313.87 330.55h1.5v1.5h-1.5zM316.66 330.55h1.5v1.5h-1.5zM319.45 330.55h1.5v1.5h-1.5zM285.95 333.15h1.5v1.5h-1.5zM288.74 333.15h1.5v1.5h-1.5zM291.53 333.15h1.5v1.5h-1.5zM294.32 333.15h1.5v1.5h-1.5zM297.12 333.15h1.5v1.5h-1.5zM299.91 333.15h1.5v1.5h-1.5zM302.7 333.15h1.5v1.5h-1.5zM305.49 333.15h1.5v1.5h-1.5zM308.28 333.15h1.5v1.5h-1.5zM311.07 333.15h1.5v1.5h-1.5zM313.87 333.15h1.5v1.5h-1.5zM316.66 333.15h1.5v1.5h-1.5zM319.45 333.15h1.5v1.5h-1.5zM288.75 335.45h1.5v1.5h-1.5zM291.53 335.45h1.5v1.5h-1.5zM294.31 335.45h1.5v1.5h-1.5zM297.09 335.45h1.5v1.5h-1.5zM299.87 335.45h1.5v1.5h-1.5zM302.65 335.45h1.5v1.5h-1.5zM305.43 335.45h1.5v1.5h-1.5zM308.21 335.45h1.5v1.5h-1.5zM310.99 335.45h1.5v1.5h-1.5zM313.77 335.45h1.5v1.5h-1.5zM316.55 335.45h1.5v1.5h-1.5zM285.95 337.55h1.5v1.5h-1.5zM289.35 337.55h1.5v1.5h-1.5zM292.75 337.55h1.5v1.5h-1.5zM296.15 337.55h1.5v1.5h-1.5zM299.55 337.55h1.5v1.5h-1.5zM302.95 337.55h1.5v1.5h-1.5zM306.35 337.55h1.5v1.5h-1.5zM309.75 337.55h1.5v1.5h-1.5zM313.15 337.55h1.5v1.5h-1.5zM316.55 337.55h1.5v1.5h-1.5zM294.55 339.65h1.5v1.5h-1.5zM297.33 339.65h1.5v1.5h-1.5zM300.12 339.65h1.5v1.5h-1.5zM302.9 339.65h1.5v1.5h-1.5zM305.68 339.65h1.5v1.5h-1.5zM308.47 339.65h1.5v1.5h-1.5zM311.25 339.65h1.5v1.5h-1.5zM300.05 341.85h1.5v1.5h-1.5zM302.8 341.85h1.5v1.5h-1.5zM305.55 341.85h1.5v1.5h-1.5z" fill="#3a3a3a"/>
<path d="M283.8 331.3H323.6" stroke="#2e2e2e" stroke-width="1.0"/>
<path d="M381.55 269.8V361.4H521" stroke="#6e6e6e" stroke-width="1" fill="none"/>
<path d="M378.95 269.8H381.55M378.95 288.12H381.55M378.95 306.44H381.55M378.95 324.76H381.55M378.95 343.08H381.55M378.95 361.4H381.55" stroke="#6e6e6e" stroke-width="1" fill="none"/>
<text transform="translate(377.95 272.25) scale(1 1.13)" text-anchor="end" class="t">3000</text>
<text transform="translate(377.95 290.57) scale(1 1.13)" text-anchor="end" class="t">2500</text>
<text transform="translate(377.95 308.89) scale(1 1.13)" text-anchor="end" class="t">2000</text>
<text transform="translate(377.95 327.21) scale(1 1.13)" text-anchor="end" class="t">1500</text>
<text transform="translate(377.95 345.53) scale(1 1.13)" text-anchor="end" class="t">1000</text>
<text transform="translate(377.95 363.85) scale(1 1.13)" text-anchor="end" class="t">500</text>
<text transform="translate(360.1 312) rotate(-90) scale(0.955 1)" text-anchor="middle" class="ti">Mcl-1 expression (MESF)</text>
<text x="383.6" y="263.8" class="L">I</text>
<path d="M421.1 283.8V263.1H478.5V284.6" stroke="#6e6e6e" stroke-width="1" fill="none"/>
<text transform="translate(437.7 260.2) scale(1 1.03)" class="t"><tspan font-style="italic">P</tspan> = .003</text>
<text transform="translate(421.1 369.95) scale(1 1.13)" text-anchor="middle" class="t">&lt;20% ZAP-70</text>
<text transform="translate(480.45 369.95) scale(1 1.13)" text-anchor="middle" class="t">≥20% ZAP-70</text>
<path d="M400.8 329.9H440.6" stroke="#9a9a9a" stroke-width="1.1"/>
<path d="M420.05 289.05h1.5v1.5h-1.5zM420.05 297.15h1.5v1.5h-1.5zM420.05 304.35h1.5v1.5h-1.5zM425.45 305.45h1.5v1.5h-1.5zM417.35 307.25h1.5v1.5h-1.5zM420.05 307.25h1.5v1.5h-1.5zM422.75 307.25h1.5v1.5h-1.5zM414.45 308.75h1.5v1.5h-1.5zM422.75 308.75h1.5v1.5h-1.5zM425.45 308.75h1.5v1.5h-1.5zM417.35 310.65h1.5v1.5h-1.5zM420.05 310.65h1.5v1.5h-1.5zM420.05 314.15h1.5v1.5h-1.5zM405.85 315.25h1.5v1.5h-1.5zM408.72 315.25h1.5v1.5h-1.5zM411.58 315.25h1.5v1.5h-1.5zM414.45 315.25h1.5v1.5h-1.5zM422.75 315.25h1.5v1.5h-1.5zM425.58 315.25h1.5v1.5h-1.5zM428.42 315.25h1.5v1.5h-1.5zM431.25 315.25h1.5v1.5h-1.5zM417.35 317.05h1.5v1.5h-1.5zM420.05 317.05h1.5v1.5h-1.5zM402.95 318.65h1.5v1.5h-1.5zM405.78 318.65h1.5v1.5h-1.5zM408.62 318.65h1.5v1.5h-1.5zM411.45 318.65h1.5v1.5h-1.5zM414.28 318.65h1.5v1.5h-1.5zM417.12 318.65h1.5v1.5h-1.5zM419.95 318.65h1.5v1.5h-1.5zM422.78 318.65h1.5v1.5h-1.5zM425.62 318.65h1.5v1.5h-1.5zM428.45 318.65h1.5v1.5h-1.5zM431.28 318.65h1.5v1.5h-1.5zM434.12 318.65h1.5v1.5h-1.5zM436.95 318.65h1.5v1.5h-1.5zM414.45 320.55h1.5v1.5h-1.5zM417.2 320.55h1.5v1.5h-1.5zM419.95 320.55h1.5v1.5h-1.5zM422.7 320.55h1.5v1.5h-1.5zM425.45 320.55h1.5v1.5h-1.5zM414.45 321.95h1.5v1.5h-1.5zM422.75 321.95h1.5v1.5h-1.5zM417.35 324.25h1.5v1.5h-1.5zM420.05 324.25h1.5v1.5h-1.5zM420.05 326.85h1.5v1.5h-1.5zM422.75 326.85h1.5v1.5h-1.5zM405.85 327.65h1.5v1.5h-1.5zM408.7 327.65h1.5v1.5h-1.5zM411.55 327.65h1.5v1.5h-1.5zM428.35 327.65h1.5v1.5h-1.5zM431.2 327.65h1.5v1.5h-1.5zM434.05 327.65h1.5v1.5h-1.5zM414.45 329.25h1.5v1.5h-1.5zM417.2 329.25h1.5v1.5h-1.5zM419.95 329.25h1.5v1.5h-1.5zM422.7 329.25h1.5v1.5h-1.5zM425.45 329.25h1.5v1.5h-1.5zM417.35 330.75h1.5v1.5h-1.5zM425.45 330.75h1.5v1.5h-1.5zM417.35 331.65h1.5v1.5h-1.5zM420.05 331.65h1.5v1.5h-1.5zM422.75 331.65h1.5v1.5h-1.5zM405.85 333.05h1.5v1.5h-1.5zM408.67 333.05h1.5v1.5h-1.5zM411.49 333.05h1.5v1.5h-1.5zM414.32 333.05h1.5v1.5h-1.5zM417.14 333.05h1.5v1.5h-1.5zM419.96 333.05h1.5v1.5h-1.5zM422.78 333.05h1.5v1.5h-1.5zM425.61 333.05h1.5v1.5h-1.5zM428.43 333.05h1.5v1.5h-1.5zM431.25 333.05h1.5v1.5h-1.5zM420.05 334.55h1.5v1.5h-1.5zM422.75 334.55h1.5v1.5h-1.5zM405.85 336.05h1.5v1.5h-1.5zM408.67 336.05h1.5v1.5h-1.5zM411.49 336.05h1.5v1.5h-1.5zM414.31 336.05h1.5v1.5h-1.5zM417.13 336.05h1.5v1.5h-1.5zM419.95 336.05h1.5v1.5h-1.5zM422.77 336.05h1.5v1.5h-1.5zM425.59 336.05h1.5v1.5h-1.5zM428.41 336.05h1.5v1.5h-1.5zM431.23 336.05h1.5v1.5h-1.5zM434.05 336.05h1.5v1.5h-1.5zM414.45 338.05h1.5v1.5h-1.5zM417.25 338.05h1.5v1.5h-1.5zM420.05 338.05h1.5v1.5h-1.5zM422.85 338.05h1.5v1.5h-1.5zM425.65 338.05h1.5v1.5h-1.5zM428.45 338.05h1.5v1.5h-1.5zM431.25 338.05h1.5v1.5h-1.5zM408.75 340.05h1.5v1.5h-1.5zM411.56 340.05h1.5v1.5h-1.5zM414.38 340.05h1.5v1.5h-1.5zM417.19 340.05h1.5v1.5h-1.5zM420 340.05h1.5v1.5h-1.5zM422.81 340.05h1.5v1.5h-1.5zM425.62 340.05h1.5v1.5h-1.5zM428.44 340.05h1.5v1.5h-1.5zM431.25 340.05h1.5v1.5h-1.5zM414.45 341.85h1.5v1.5h-1.5zM417.2 341.85h1.5v1.5h-1.5zM419.95 341.85h1.5v1.5h-1.5zM422.7 341.85h1.5v1.5h-1.5zM425.45 341.85h1.5v1.5h-1.5zM420.05 344.65h1.5v1.5h-1.5zM422.75 344.65h1.5v1.5h-1.5zM417.35 347.25h1.5v1.5h-1.5zM420.05 349.05h1.5v1.5h-1.5zM422.75 349.05h1.5v1.5h-1.5zM420.05 351.85h1.5v1.5h-1.5z" fill="#3a3a3a"/>
<path d="M478.85 287.55h1.5v1.5h-1.5zM476.15 291.05h1.5v1.5h-1.5zM481.65 291.05h1.5v1.5h-1.5zM478.85 292.55h1.5v1.5h-1.5zM481.65 296.05h1.5v1.5h-1.5zM478.85 298.35h1.5v1.5h-1.5zM476.15 301.05h1.5v1.5h-1.5zM478.85 303.75h1.5v1.5h-1.5zM484.55 306.35h1.5v1.5h-1.5zM476.15 307.55h1.5v1.5h-1.5zM478.9 307.55h1.5v1.5h-1.5zM481.65 307.55h1.5v1.5h-1.5zM470.75 310.05h1.5v1.5h-1.5zM473.35 311.25h1.5v1.5h-1.5zM476.15 311.25h1.5v1.5h-1.5zM478.95 311.25h1.5v1.5h-1.5zM481.75 311.25h1.5v1.5h-1.5zM484.55 311.25h1.5v1.5h-1.5zM476.15 312.95h1.5v1.5h-1.5zM478.85 315.05h1.5v1.5h-1.5zM481.65 315.05h1.5v1.5h-1.5zM464.95 315.85h1.5v1.5h-1.5zM467.85 315.85h1.5v1.5h-1.5zM470.75 315.85h1.5v1.5h-1.5zM487.45 315.85h1.5v1.5h-1.5zM490.05 315.85h1.5v1.5h-1.5zM492.65 315.85h1.5v1.5h-1.5zM473.35 317.95h1.5v1.5h-1.5zM476.15 317.95h1.5v1.5h-1.5zM478.95 317.95h1.5v1.5h-1.5zM481.75 317.95h1.5v1.5h-1.5zM484.55 317.95h1.5v1.5h-1.5zM464.95 319.45h1.5v1.5h-1.5zM467.85 319.45h1.5v1.5h-1.5zM470.75 319.45h1.5v1.5h-1.5zM487.45 319.45h1.5v1.5h-1.5zM490.15 319.45h1.5v1.5h-1.5zM492.85 319.45h1.5v1.5h-1.5zM495.55 319.45h1.5v1.5h-1.5zM473.35 321.55h1.5v1.5h-1.5zM476.15 321.55h1.5v1.5h-1.5zM478.95 321.55h1.5v1.5h-1.5zM481.75 321.55h1.5v1.5h-1.5zM484.55 321.55h1.5v1.5h-1.5zM462.05 323.65h1.5v1.5h-1.5zM464.84 323.65h1.5v1.5h-1.5zM467.63 323.65h1.5v1.5h-1.5zM470.43 323.65h1.5v1.5h-1.5zM473.22 323.65h1.5v1.5h-1.5zM476.01 323.65h1.5v1.5h-1.5zM478.8 323.65h1.5v1.5h-1.5zM481.59 323.65h1.5v1.5h-1.5zM484.38 323.65h1.5v1.5h-1.5zM487.18 323.65h1.5v1.5h-1.5zM489.97 323.65h1.5v1.5h-1.5zM492.76 323.65h1.5v1.5h-1.5zM495.55 323.65h1.5v1.5h-1.5zM476.15 325.35h1.5v1.5h-1.5zM478.9 325.35h1.5v1.5h-1.5zM481.65 325.35h1.5v1.5h-1.5zM484.55 326.85h1.5v1.5h-1.5zM487.45 326.85h1.5v1.5h-1.5zM473.35 328.05h1.5v1.5h-1.5zM476.15 328.05h1.5v1.5h-1.5zM478.95 328.05h1.5v1.5h-1.5zM481.75 328.05h1.5v1.5h-1.5zM484.55 328.05h1.5v1.5h-1.5zM473.35 329.95h1.5v1.5h-1.5zM476.12 329.95h1.5v1.5h-1.5zM478.88 329.95h1.5v1.5h-1.5zM481.65 329.95h1.5v1.5h-1.5zM476.15 331.75h1.5v1.5h-1.5zM478.85 331.75h1.5v1.5h-1.5zM476.15 333.75h1.5v1.5h-1.5zM481.65 334.55h1.5v1.5h-1.5zM478.85 336.35h1.5v1.5h-1.5zM484.55 336.85h1.5v1.5h-1.5zM473.35 338.05h1.5v1.5h-1.5zM476.12 338.05h1.5v1.5h-1.5zM478.88 338.05h1.5v1.5h-1.5zM481.65 338.05h1.5v1.5h-1.5zM476.15 340.95h1.5v1.5h-1.5zM478.85 340.95h1.5v1.5h-1.5zM478.85 342.65h1.5v1.5h-1.5zM481.65 342.65h1.5v1.5h-1.5zM473.35 344.65h1.5v1.5h-1.5zM476.15 346.45h1.5v1.5h-1.5zM478.9 346.45h1.5v1.5h-1.5zM481.65 346.45h1.5v1.5h-1.5zM478.85 351.85h1.5v1.5h-1.5z" fill="#3a3a3a"/>
<path d="M460 322.3H499.7" stroke="#2e2e2e" stroke-width="1.0"/>
</svg>
</body></html>
